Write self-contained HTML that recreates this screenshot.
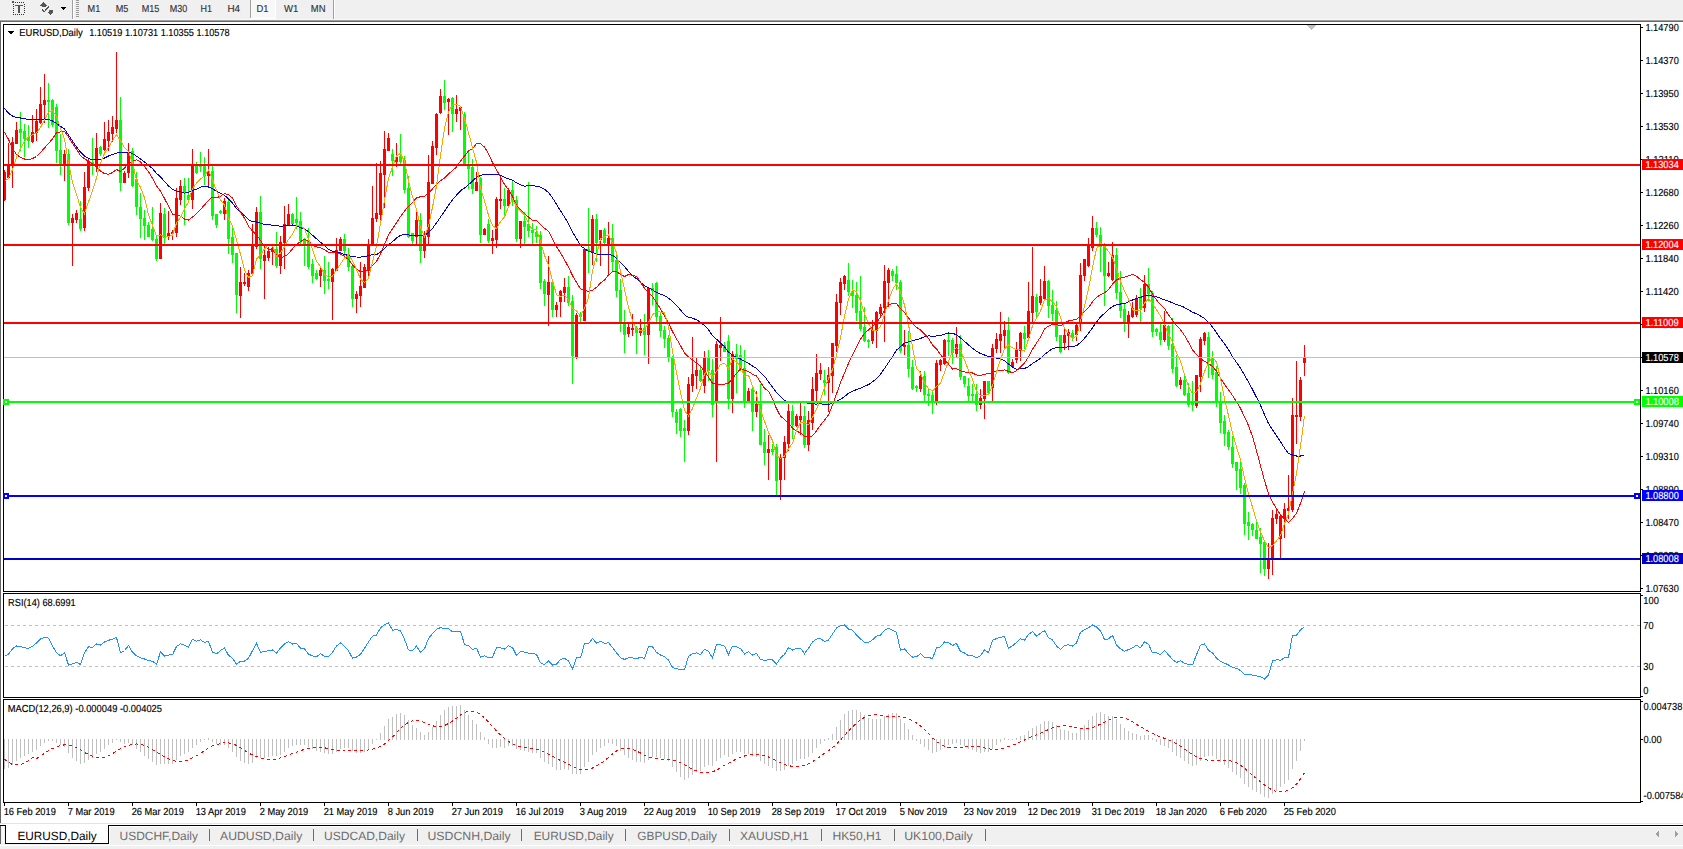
<!DOCTYPE html>
<html><head><meta charset="utf-8"><title>EURUSD,Daily</title>
<style>html,body{margin:0;padding:0;background:#fff;width:1683px;height:849px;overflow:hidden;font-family:"Liberation Sans",sans-serif}svg{display:block}text{font-family:"Liberation Sans",sans-serif}</style>
</head><body><svg width="1683" height="849" viewBox="0 0 1683 849" font-family="Liberation Sans, sans-serif" shape-rendering="crispEdges" text-rendering="geometricPrecision"><rect x="0" y="0" width="1683" height="849" fill="#f0f0f0"/>
<rect x="0" y="19" width="1683" height="1" fill="#f7f7f7"/>
<rect x="0" y="20" width="1683" height="1" fill="#a0a0a0"/>
<rect x="0" y="21" width="1683" height="1" fill="#696969"/>
<rect x="0" y="22" width="1683" height="801" fill="#ffffff"/>
<rect x="0" y="22" width="1" height="801" fill="#646464"/>
<rect x="13" y="2" width="1" height="1" fill="#333"/>
<rect x="13" y="14" width="1" height="1" fill="#333"/>
<rect x="15" y="2" width="1" height="1" fill="#333"/>
<rect x="15" y="14" width="1" height="1" fill="#333"/>
<rect x="17" y="2" width="1" height="1" fill="#333"/>
<rect x="17" y="14" width="1" height="1" fill="#333"/>
<rect x="19" y="2" width="1" height="1" fill="#333"/>
<rect x="19" y="14" width="1" height="1" fill="#333"/>
<rect x="21" y="2" width="1" height="1" fill="#333"/>
<rect x="21" y="14" width="1" height="1" fill="#333"/>
<rect x="23" y="2" width="1" height="1" fill="#333"/>
<rect x="23" y="14" width="1" height="1" fill="#333"/>
<rect x="13" y="4" width="1" height="1" fill="#333"/>
<rect x="24" y="4" width="1" height="1" fill="#333"/>
<rect x="13" y="6" width="1" height="1" fill="#333"/>
<rect x="24" y="6" width="1" height="1" fill="#333"/>
<rect x="13" y="8" width="1" height="1" fill="#333"/>
<rect x="24" y="8" width="1" height="1" fill="#333"/>
<rect x="13" y="10" width="1" height="1" fill="#333"/>
<rect x="24" y="10" width="1" height="1" fill="#333"/>
<rect x="13" y="12" width="1" height="1" fill="#333"/>
<rect x="24" y="12" width="1" height="1" fill="#333"/>
<rect x="12" y="1" width="2" height="2" fill="#555"/>
<rect x="15" y="5" width="8" height="1" fill="#555"/>
<rect x="18" y="5" width="2" height="8" fill="#555"/>
<path d="M40 5.5 L43.5 2 L47 5.5 Z M42 5 h4 v2 h-4 Z M47 11.5 L50.5 15 L54 11.5 Z M48.5 10 h4 v2 h-4 Z" fill="#555"/>
<path d="M42 9.5 L44.5 11.5 L49 6.5" stroke="#555" stroke-width="1.3" fill="none"/>
<path d="M61 7 L66 7 L63.5 9.8 Z" fill="#000"/>
<rect x="72" y="0" width="1" height="19" fill="#a0a0a0"/>
<rect x="73" y="0" width="1" height="19" fill="#ffffff"/>
<rect x="76" y="0" width="3" height="1" fill="#9a9a9a"/>
<rect x="76" y="2" width="3" height="1" fill="#9a9a9a"/>
<rect x="76" y="4" width="3" height="1" fill="#9a9a9a"/>
<rect x="76" y="6" width="3" height="1" fill="#9a9a9a"/>
<rect x="76" y="8" width="3" height="1" fill="#9a9a9a"/>
<rect x="76" y="10" width="3" height="1" fill="#9a9a9a"/>
<rect x="76" y="12" width="3" height="1" fill="#9a9a9a"/>
<rect x="76" y="14" width="3" height="1" fill="#9a9a9a"/>
<rect x="76" y="16" width="3" height="1" fill="#9a9a9a"/>
<rect x="250" y="0" width="1" height="18" fill="#a0a0a0"/>
<rect x="251" y="0" width="24" height="18" fill="#f8f8f8"/>
<rect x="250" y="18" width="26" height="1" fill="#ffffff"/>
<rect x="275" y="0" width="1" height="18" fill="#ffffff"/>
<rect x="333" y="0" width="1" height="19" fill="#a0a0a0"/>
<rect x="334" y="0" width="1" height="19" fill="#ffffff"/>
<text x="87.6" y="12" font-size="10.2" fill="#333" stroke="#333" stroke-width="0.15" textLength="12.7" lengthAdjust="spacingAndGlyphs">M1</text>
<text x="115.7" y="12" font-size="10.2" fill="#333" stroke="#333" stroke-width="0.15" textLength="12.6" lengthAdjust="spacingAndGlyphs">M5</text>
<text x="141.7" y="12" font-size="10.2" fill="#333" stroke="#333" stroke-width="0.15" textLength="17.6" lengthAdjust="spacingAndGlyphs">M15</text>
<text x="169.7" y="12" font-size="10.2" fill="#333" stroke="#333" stroke-width="0.15" textLength="17.5" lengthAdjust="spacingAndGlyphs">M30</text>
<text x="200.5" y="12" font-size="10.2" fill="#333" stroke="#333" stroke-width="0.15" textLength="11.5" lengthAdjust="spacingAndGlyphs">H1</text>
<text x="227.4" y="12" font-size="10.2" fill="#333" stroke="#333" stroke-width="0.15" textLength="12.6" lengthAdjust="spacingAndGlyphs">H4</text>
<text x="256.4" y="12" font-size="10.2" fill="#333" stroke="#333" stroke-width="0.15" textLength="12.0" lengthAdjust="spacingAndGlyphs">D1</text>
<text x="284" y="12" font-size="10.2" fill="#333" stroke="#333" stroke-width="0.15" textLength="14.3" lengthAdjust="spacingAndGlyphs">W1</text>
<text x="310.8" y="12" font-size="10.2" fill="#333" stroke="#333" stroke-width="0.15" textLength="14.7" lengthAdjust="spacingAndGlyphs">MN</text>
<rect x="3" y="24" width="1638" height="1" fill="#000"/>
<rect x="3" y="591" width="1638" height="1" fill="#000"/>
<rect x="3" y="24" width="1" height="568" fill="#000"/>
<rect x="1640" y="24" width="1" height="568" fill="#000"/>
<rect x="3" y="593" width="1638" height="1" fill="#000"/>
<rect x="3" y="697" width="1638" height="1" fill="#000"/>
<rect x="3" y="593" width="1" height="105" fill="#000"/>
<rect x="1640" y="593" width="1" height="105" fill="#000"/>
<rect x="3" y="699" width="1638" height="1" fill="#000"/>
<rect x="3" y="802" width="1638" height="1" fill="#000"/>
<rect x="3" y="699" width="1" height="104" fill="#000"/>
<rect x="1640" y="699" width="1" height="104" fill="#000"/>
<svg x="4" y="25" width="1636" height="566" viewBox="4 25 1636 566" overflow="hidden">
<rect x="4" y="170" width="1" height="31" fill="#ff0000"/>
<rect x="3" y="172" width="3" height="28" fill="#ff0000"/>
<rect x="8" y="143" width="1" height="36" fill="#ff0000"/>
<rect x="7" y="164" width="3" height="14" fill="#ff0000"/>
<rect x="12" y="137" width="1" height="51" fill="#ff0000"/>
<rect x="11" y="142" width="3" height="23" fill="#ff0000"/>
<rect x="16" y="122" width="1" height="22" fill="#ff0000"/>
<rect x="15" y="130" width="3" height="14" fill="#ff0000"/>
<rect x="20" y="112" width="1" height="39" fill="#00ff00"/>
<rect x="19" y="129" width="3" height="4" fill="#00ff00"/>
<rect x="24" y="124" width="1" height="33" fill="#00ff00"/>
<rect x="23" y="131" width="3" height="8" fill="#00ff00"/>
<rect x="28" y="125" width="1" height="23" fill="#00ff00"/>
<rect x="27" y="137" width="3" height="4" fill="#00ff00"/>
<rect x="32" y="115" width="1" height="28" fill="#ff0000"/>
<rect x="31" y="132" width="3" height="10" fill="#ff0000"/>
<rect x="36" y="109" width="1" height="32" fill="#ff0000"/>
<rect x="35" y="121" width="3" height="12" fill="#ff0000"/>
<rect x="40" y="87" width="1" height="37" fill="#ff0000"/>
<rect x="39" y="104" width="3" height="19" fill="#ff0000"/>
<rect x="44" y="74" width="1" height="49" fill="#ff0000"/>
<rect x="43" y="100" width="3" height="5" fill="#ff0000"/>
<rect x="48" y="83" width="1" height="45" fill="#00ff00"/>
<rect x="47" y="100" width="3" height="2" fill="#00ff00"/>
<rect x="52" y="99" width="1" height="28" fill="#00ff00"/>
<rect x="51" y="100" width="3" height="25" fill="#00ff00"/>
<rect x="56" y="104" width="1" height="59" fill="#00ff00"/>
<rect x="55" y="107" width="3" height="44" fill="#00ff00"/>
<rect x="60" y="134" width="1" height="41" fill="#00ff00"/>
<rect x="59" y="150" width="3" height="15" fill="#00ff00"/>
<rect x="64" y="150" width="1" height="31" fill="#ff0000"/>
<rect x="63" y="154" width="3" height="11" fill="#ff0000"/>
<rect x="68" y="149" width="1" height="76" fill="#00ff00"/>
<rect x="67" y="154" width="3" height="69" fill="#00ff00"/>
<rect x="72" y="214" width="1" height="52" fill="#ff0000"/>
<rect x="71" y="218" width="3" height="5" fill="#ff0000"/>
<rect x="76" y="210" width="1" height="13" fill="#ff0000"/>
<rect x="75" y="213" width="3" height="7" fill="#ff0000"/>
<rect x="80" y="201" width="1" height="30" fill="#00ff00"/>
<rect x="79" y="219" width="3" height="10" fill="#00ff00"/>
<rect x="84" y="172" width="1" height="59" fill="#ff0000"/>
<rect x="83" y="187" width="3" height="41" fill="#ff0000"/>
<rect x="88" y="158" width="1" height="33" fill="#ff0000"/>
<rect x="87" y="161" width="3" height="27" fill="#ff0000"/>
<rect x="92" y="138" width="1" height="37" fill="#00ff00"/>
<rect x="91" y="162" width="3" height="3" fill="#00ff00"/>
<rect x="96" y="133" width="1" height="39" fill="#ff0000"/>
<rect x="95" y="148" width="3" height="19" fill="#ff0000"/>
<rect x="100" y="146" width="1" height="10" fill="#00ff00"/>
<rect x="99" y="147" width="3" height="7" fill="#00ff00"/>
<rect x="104" y="122" width="1" height="29" fill="#ff0000"/>
<rect x="103" y="139" width="3" height="11" fill="#ff0000"/>
<rect x="108" y="120" width="1" height="31" fill="#ff0000"/>
<rect x="107" y="132" width="3" height="9" fill="#ff0000"/>
<rect x="112" y="116" width="1" height="26" fill="#ff0000"/>
<rect x="111" y="127" width="3" height="7" fill="#ff0000"/>
<rect x="116" y="52" width="1" height="81" fill="#ff0000"/>
<rect x="115" y="120" width="3" height="9" fill="#ff0000"/>
<rect x="120" y="97" width="1" height="94" fill="#00ff00"/>
<rect x="119" y="120" width="3" height="63" fill="#00ff00"/>
<rect x="124" y="171" width="1" height="12" fill="#ff0000"/>
<rect x="123" y="173" width="3" height="10" fill="#ff0000"/>
<rect x="128" y="143" width="1" height="35" fill="#ff0000"/>
<rect x="127" y="152" width="3" height="21" fill="#ff0000"/>
<rect x="132" y="148" width="1" height="39" fill="#00ff00"/>
<rect x="131" y="151" width="3" height="35" fill="#00ff00"/>
<rect x="136" y="172" width="1" height="43" fill="#00ff00"/>
<rect x="135" y="179" width="3" height="28" fill="#00ff00"/>
<rect x="140" y="193" width="1" height="45" fill="#00ff00"/>
<rect x="139" y="207" width="3" height="12" fill="#00ff00"/>
<rect x="144" y="210" width="1" height="30" fill="#00ff00"/>
<rect x="143" y="218" width="3" height="8" fill="#00ff00"/>
<rect x="148" y="222" width="1" height="15" fill="#00ff00"/>
<rect x="147" y="225" width="3" height="12" fill="#00ff00"/>
<rect x="152" y="207" width="1" height="34" fill="#00ff00"/>
<rect x="151" y="229" width="3" height="11" fill="#00ff00"/>
<rect x="156" y="236" width="1" height="25" fill="#00ff00"/>
<rect x="155" y="239" width="3" height="20" fill="#00ff00"/>
<rect x="160" y="203" width="1" height="56" fill="#ff0000"/>
<rect x="159" y="213" width="3" height="46" fill="#ff0000"/>
<rect x="164" y="208" width="1" height="36" fill="#00ff00"/>
<rect x="163" y="214" width="3" height="24" fill="#00ff00"/>
<rect x="168" y="211" width="1" height="29" fill="#ff0000"/>
<rect x="167" y="233" width="3" height="3" fill="#ff0000"/>
<rect x="172" y="230" width="1" height="10" fill="#ff0000"/>
<rect x="171" y="232" width="3" height="2" fill="#ff0000"/>
<rect x="176" y="188" width="1" height="49" fill="#ff0000"/>
<rect x="175" y="198" width="3" height="35" fill="#ff0000"/>
<rect x="180" y="180" width="1" height="25" fill="#ff0000"/>
<rect x="179" y="186" width="3" height="14" fill="#ff0000"/>
<rect x="184" y="178" width="1" height="47" fill="#00ff00"/>
<rect x="183" y="186" width="3" height="7" fill="#00ff00"/>
<rect x="188" y="178" width="1" height="25" fill="#00ff00"/>
<rect x="187" y="195" width="3" height="5" fill="#00ff00"/>
<rect x="192" y="149" width="1" height="60" fill="#ff0000"/>
<rect x="191" y="164" width="3" height="36" fill="#ff0000"/>
<rect x="196" y="162" width="1" height="12" fill="#00ff00"/>
<rect x="195" y="165" width="3" height="8" fill="#00ff00"/>
<rect x="200" y="152" width="1" height="20" fill="#00ff00"/>
<rect x="199" y="164" width="3" height="3" fill="#00ff00"/>
<rect x="204" y="157" width="1" height="28" fill="#00ff00"/>
<rect x="203" y="166" width="3" height="10" fill="#00ff00"/>
<rect x="208" y="149" width="1" height="37" fill="#ff0000"/>
<rect x="207" y="171" width="3" height="5" fill="#ff0000"/>
<rect x="212" y="166" width="1" height="54" fill="#00ff00"/>
<rect x="211" y="171" width="3" height="45" fill="#00ff00"/>
<rect x="216" y="214" width="1" height="14" fill="#00ff00"/>
<rect x="215" y="214" width="3" height="11" fill="#00ff00"/>
<rect x="220" y="210" width="1" height="4" fill="#00ff00"/>
<rect x="219" y="211" width="3" height="2" fill="#00ff00"/>
<rect x="224" y="198" width="1" height="22" fill="#ff0000"/>
<rect x="223" y="201" width="3" height="13" fill="#ff0000"/>
<rect x="228" y="199" width="1" height="55" fill="#00ff00"/>
<rect x="227" y="202" width="3" height="37" fill="#00ff00"/>
<rect x="232" y="227" width="1" height="36" fill="#00ff00"/>
<rect x="231" y="237" width="3" height="18" fill="#00ff00"/>
<rect x="236" y="253" width="1" height="60" fill="#00ff00"/>
<rect x="235" y="253" width="3" height="42" fill="#00ff00"/>
<rect x="240" y="267" width="1" height="51" fill="#ff0000"/>
<rect x="239" y="282" width="3" height="14" fill="#ff0000"/>
<rect x="244" y="273" width="1" height="13" fill="#ff0000"/>
<rect x="243" y="282" width="3" height="2" fill="#ff0000"/>
<rect x="248" y="270" width="1" height="21" fill="#ff0000"/>
<rect x="247" y="273" width="3" height="14" fill="#ff0000"/>
<rect x="252" y="224" width="1" height="51" fill="#ff0000"/>
<rect x="251" y="244" width="3" height="30" fill="#ff0000"/>
<rect x="256" y="207" width="1" height="42" fill="#ff0000"/>
<rect x="255" y="212" width="3" height="35" fill="#ff0000"/>
<rect x="260" y="196" width="1" height="73" fill="#00ff00"/>
<rect x="259" y="212" width="3" height="47" fill="#00ff00"/>
<rect x="264" y="246" width="1" height="53" fill="#ff0000"/>
<rect x="263" y="255" width="3" height="6" fill="#ff0000"/>
<rect x="268" y="247" width="1" height="14" fill="#ff0000"/>
<rect x="267" y="251" width="3" height="7" fill="#ff0000"/>
<rect x="272" y="246" width="1" height="19" fill="#ff0000"/>
<rect x="271" y="248" width="3" height="4" fill="#ff0000"/>
<rect x="276" y="232" width="1" height="36" fill="#00ff00"/>
<rect x="275" y="249" width="3" height="17" fill="#00ff00"/>
<rect x="280" y="236" width="1" height="38" fill="#ff0000"/>
<rect x="279" y="242" width="3" height="24" fill="#ff0000"/>
<rect x="284" y="206" width="1" height="63" fill="#ff0000"/>
<rect x="283" y="224" width="3" height="19" fill="#ff0000"/>
<rect x="288" y="204" width="1" height="22" fill="#ff0000"/>
<rect x="287" y="214" width="3" height="11" fill="#ff0000"/>
<rect x="292" y="213" width="1" height="12" fill="#00ff00"/>
<rect x="291" y="214" width="3" height="10" fill="#00ff00"/>
<rect x="296" y="197" width="1" height="32" fill="#00ff00"/>
<rect x="295" y="219" width="3" height="4" fill="#00ff00"/>
<rect x="300" y="212" width="1" height="33" fill="#00ff00"/>
<rect x="299" y="221" width="3" height="20" fill="#00ff00"/>
<rect x="304" y="238" width="1" height="28" fill="#00ff00"/>
<rect x="303" y="240" width="3" height="4" fill="#00ff00"/>
<rect x="308" y="228" width="1" height="41" fill="#00ff00"/>
<rect x="307" y="240" width="3" height="27" fill="#00ff00"/>
<rect x="312" y="259" width="1" height="24" fill="#00ff00"/>
<rect x="311" y="264" width="3" height="12" fill="#00ff00"/>
<rect x="316" y="270" width="1" height="10" fill="#00ff00"/>
<rect x="315" y="273" width="3" height="6" fill="#00ff00"/>
<rect x="320" y="267" width="1" height="20" fill="#ff0000"/>
<rect x="319" y="270" width="3" height="6" fill="#ff0000"/>
<rect x="324" y="256" width="1" height="38" fill="#00ff00"/>
<rect x="323" y="270" width="3" height="11" fill="#00ff00"/>
<rect x="328" y="262" width="1" height="27" fill="#00ff00"/>
<rect x="327" y="279" width="3" height="2" fill="#00ff00"/>
<rect x="332" y="268" width="1" height="52" fill="#ff0000"/>
<rect x="331" y="269" width="3" height="13" fill="#ff0000"/>
<rect x="336" y="238" width="1" height="33" fill="#ff0000"/>
<rect x="335" y="250" width="3" height="21" fill="#ff0000"/>
<rect x="340" y="237" width="1" height="14" fill="#ff0000"/>
<rect x="339" y="239" width="3" height="12" fill="#ff0000"/>
<rect x="344" y="234" width="1" height="22" fill="#00ff00"/>
<rect x="343" y="239" width="3" height="12" fill="#00ff00"/>
<rect x="348" y="248" width="1" height="23" fill="#00ff00"/>
<rect x="347" y="254" width="3" height="13" fill="#00ff00"/>
<rect x="352" y="264" width="1" height="43" fill="#00ff00"/>
<rect x="351" y="266" width="3" height="33" fill="#00ff00"/>
<rect x="356" y="291" width="1" height="22" fill="#ff0000"/>
<rect x="355" y="294" width="3" height="5" fill="#ff0000"/>
<rect x="360" y="262" width="1" height="45" fill="#ff0000"/>
<rect x="359" y="286" width="3" height="10" fill="#ff0000"/>
<rect x="364" y="264" width="1" height="24" fill="#ff0000"/>
<rect x="363" y="267" width="3" height="21" fill="#ff0000"/>
<rect x="368" y="239" width="1" height="39" fill="#ff0000"/>
<rect x="367" y="244" width="3" height="27" fill="#ff0000"/>
<rect x="372" y="186" width="1" height="60" fill="#ff0000"/>
<rect x="371" y="218" width="3" height="27" fill="#ff0000"/>
<rect x="376" y="163" width="1" height="59" fill="#ff0000"/>
<rect x="375" y="213" width="3" height="6" fill="#ff0000"/>
<rect x="380" y="161" width="1" height="60" fill="#ff0000"/>
<rect x="379" y="173" width="3" height="42" fill="#ff0000"/>
<rect x="384" y="131" width="1" height="77" fill="#ff0000"/>
<rect x="383" y="149" width="3" height="26" fill="#ff0000"/>
<rect x="388" y="133" width="1" height="18" fill="#ff0000"/>
<rect x="387" y="138" width="3" height="13" fill="#ff0000"/>
<rect x="392" y="149" width="1" height="27" fill="#00ff00"/>
<rect x="391" y="154" width="3" height="7" fill="#00ff00"/>
<rect x="396" y="143" width="1" height="24" fill="#ff0000"/>
<rect x="395" y="157" width="3" height="5" fill="#ff0000"/>
<rect x="400" y="134" width="1" height="30" fill="#00ff00"/>
<rect x="399" y="156" width="3" height="6" fill="#00ff00"/>
<rect x="404" y="156" width="1" height="37" fill="#00ff00"/>
<rect x="403" y="160" width="3" height="30" fill="#00ff00"/>
<rect x="408" y="176" width="1" height="62" fill="#00ff00"/>
<rect x="407" y="188" width="3" height="49" fill="#00ff00"/>
<rect x="412" y="233" width="1" height="12" fill="#00ff00"/>
<rect x="411" y="233" width="3" height="8" fill="#00ff00"/>
<rect x="416" y="211" width="1" height="34" fill="#ff0000"/>
<rect x="415" y="220" width="3" height="17" fill="#ff0000"/>
<rect x="420" y="213" width="1" height="50" fill="#00ff00"/>
<rect x="419" y="220" width="3" height="31" fill="#00ff00"/>
<rect x="424" y="231" width="1" height="27" fill="#ff0000"/>
<rect x="423" y="236" width="3" height="15" fill="#ff0000"/>
<rect x="428" y="155" width="1" height="89" fill="#ff0000"/>
<rect x="427" y="182" width="3" height="55" fill="#ff0000"/>
<rect x="432" y="141" width="1" height="43" fill="#ff0000"/>
<rect x="431" y="146" width="3" height="38" fill="#ff0000"/>
<rect x="436" y="113" width="1" height="42" fill="#ff0000"/>
<rect x="435" y="114" width="3" height="34" fill="#ff0000"/>
<rect x="440" y="89" width="1" height="25" fill="#ff0000"/>
<rect x="439" y="96" width="3" height="17" fill="#ff0000"/>
<rect x="444" y="80" width="1" height="30" fill="#00ff00"/>
<rect x="443" y="96" width="3" height="7" fill="#00ff00"/>
<rect x="448" y="98" width="1" height="37" fill="#ff0000"/>
<rect x="447" y="99" width="3" height="3" fill="#ff0000"/>
<rect x="452" y="97" width="1" height="35" fill="#00ff00"/>
<rect x="451" y="98" width="3" height="16" fill="#00ff00"/>
<rect x="456" y="95" width="1" height="27" fill="#ff0000"/>
<rect x="455" y="109" width="3" height="5" fill="#ff0000"/>
<rect x="460" y="106" width="1" height="24" fill="#ff0000"/>
<rect x="459" y="107" width="3" height="4" fill="#ff0000"/>
<rect x="464" y="112" width="1" height="53" fill="#00ff00"/>
<rect x="463" y="114" width="3" height="51" fill="#00ff00"/>
<rect x="468" y="152" width="1" height="37" fill="#00ff00"/>
<rect x="467" y="164" width="3" height="5" fill="#00ff00"/>
<rect x="472" y="159" width="1" height="35" fill="#00ff00"/>
<rect x="471" y="167" width="3" height="22" fill="#00ff00"/>
<rect x="476" y="172" width="1" height="19" fill="#ff0000"/>
<rect x="475" y="182" width="3" height="9" fill="#ff0000"/>
<rect x="480" y="177" width="1" height="66" fill="#00ff00"/>
<rect x="479" y="178" width="3" height="57" fill="#00ff00"/>
<rect x="484" y="228" width="1" height="7" fill="#ff0000"/>
<rect x="483" y="229" width="3" height="6" fill="#ff0000"/>
<rect x="488" y="219" width="1" height="24" fill="#00ff00"/>
<rect x="487" y="224" width="3" height="17" fill="#00ff00"/>
<rect x="492" y="230" width="1" height="24" fill="#ff0000"/>
<rect x="491" y="238" width="3" height="3" fill="#ff0000"/>
<rect x="496" y="197" width="1" height="51" fill="#ff0000"/>
<rect x="495" y="199" width="3" height="41" fill="#ff0000"/>
<rect x="500" y="178" width="1" height="31" fill="#ff0000"/>
<rect x="499" y="199" width="3" height="2" fill="#ff0000"/>
<rect x="504" y="188" width="1" height="28" fill="#00ff00"/>
<rect x="503" y="199" width="3" height="7" fill="#00ff00"/>
<rect x="508" y="188" width="1" height="18" fill="#ff0000"/>
<rect x="507" y="190" width="3" height="16" fill="#ff0000"/>
<rect x="512" y="181" width="1" height="25" fill="#00ff00"/>
<rect x="511" y="190" width="3" height="10" fill="#00ff00"/>
<rect x="516" y="196" width="1" height="46" fill="#00ff00"/>
<rect x="515" y="200" width="3" height="39" fill="#00ff00"/>
<rect x="520" y="221" width="1" height="27" fill="#ff0000"/>
<rect x="519" y="221" width="3" height="18" fill="#ff0000"/>
<rect x="524" y="212" width="1" height="32" fill="#00ff00"/>
<rect x="523" y="221" width="3" height="6" fill="#00ff00"/>
<rect x="528" y="182" width="1" height="55" fill="#00ff00"/>
<rect x="527" y="224" width="3" height="7" fill="#00ff00"/>
<rect x="532" y="223" width="1" height="22" fill="#00ff00"/>
<rect x="531" y="230" width="3" height="3" fill="#00ff00"/>
<rect x="536" y="226" width="1" height="17" fill="#00ff00"/>
<rect x="535" y="232" width="3" height="5" fill="#00ff00"/>
<rect x="540" y="231" width="1" height="58" fill="#00ff00"/>
<rect x="539" y="235" width="3" height="48" fill="#00ff00"/>
<rect x="544" y="279" width="1" height="27" fill="#00ff00"/>
<rect x="543" y="281" width="3" height="13" fill="#00ff00"/>
<rect x="548" y="256" width="1" height="70" fill="#ff0000"/>
<rect x="547" y="282" width="3" height="13" fill="#ff0000"/>
<rect x="552" y="281" width="1" height="36" fill="#00ff00"/>
<rect x="551" y="282" width="3" height="28" fill="#00ff00"/>
<rect x="556" y="302" width="1" height="15" fill="#ff0000"/>
<rect x="555" y="305" width="3" height="5" fill="#ff0000"/>
<rect x="560" y="290" width="1" height="27" fill="#ff0000"/>
<rect x="559" y="291" width="3" height="11" fill="#ff0000"/>
<rect x="564" y="278" width="1" height="24" fill="#ff0000"/>
<rect x="563" y="287" width="3" height="6" fill="#ff0000"/>
<rect x="568" y="276" width="1" height="30" fill="#00ff00"/>
<rect x="567" y="287" width="3" height="16" fill="#00ff00"/>
<rect x="572" y="295" width="1" height="89" fill="#00ff00"/>
<rect x="571" y="301" width="3" height="55" fill="#00ff00"/>
<rect x="576" y="313" width="1" height="46" fill="#ff0000"/>
<rect x="575" y="315" width="3" height="42" fill="#ff0000"/>
<rect x="580" y="312" width="1" height="11" fill="#00ff00"/>
<rect x="579" y="315" width="3" height="2" fill="#00ff00"/>
<rect x="584" y="249" width="1" height="72" fill="#ff0000"/>
<rect x="583" y="249" width="3" height="72" fill="#ff0000"/>
<rect x="588" y="208" width="1" height="65" fill="#00ff00"/>
<rect x="587" y="249" width="3" height="2" fill="#00ff00"/>
<rect x="592" y="215" width="1" height="50" fill="#ff0000"/>
<rect x="591" y="219" width="3" height="33" fill="#ff0000"/>
<rect x="596" y="214" width="1" height="48" fill="#00ff00"/>
<rect x="595" y="219" width="3" height="24" fill="#00ff00"/>
<rect x="600" y="230" width="1" height="36" fill="#ff0000"/>
<rect x="599" y="230" width="3" height="10" fill="#ff0000"/>
<rect x="604" y="228" width="1" height="17" fill="#00ff00"/>
<rect x="603" y="230" width="3" height="13" fill="#00ff00"/>
<rect x="608" y="222" width="1" height="54" fill="#ff0000"/>
<rect x="607" y="238" width="3" height="7" fill="#ff0000"/>
<rect x="612" y="224" width="1" height="48" fill="#00ff00"/>
<rect x="611" y="238" width="3" height="24" fill="#00ff00"/>
<rect x="616" y="255" width="1" height="42" fill="#00ff00"/>
<rect x="615" y="260" width="3" height="31" fill="#00ff00"/>
<rect x="620" y="279" width="1" height="53" fill="#00ff00"/>
<rect x="619" y="290" width="3" height="33" fill="#00ff00"/>
<rect x="624" y="310" width="1" height="43" fill="#00ff00"/>
<rect x="623" y="323" width="3" height="12" fill="#00ff00"/>
<rect x="628" y="323" width="1" height="14" fill="#ff0000"/>
<rect x="627" y="327" width="3" height="7" fill="#ff0000"/>
<rect x="632" y="314" width="1" height="22" fill="#ff0000"/>
<rect x="631" y="328" width="3" height="2" fill="#ff0000"/>
<rect x="636" y="326" width="1" height="28" fill="#00ff00"/>
<rect x="635" y="328" width="3" height="5" fill="#00ff00"/>
<rect x="640" y="319" width="1" height="17" fill="#ff0000"/>
<rect x="639" y="328" width="3" height="5" fill="#ff0000"/>
<rect x="644" y="314" width="1" height="41" fill="#00ff00"/>
<rect x="643" y="328" width="3" height="7" fill="#00ff00"/>
<rect x="648" y="287" width="1" height="77" fill="#ff0000"/>
<rect x="647" y="288" width="3" height="47" fill="#ff0000"/>
<rect x="652" y="283" width="1" height="22" fill="#00ff00"/>
<rect x="651" y="288" width="3" height="3" fill="#00ff00"/>
<rect x="656" y="282" width="1" height="40" fill="#00ff00"/>
<rect x="655" y="283" width="3" height="34" fill="#00ff00"/>
<rect x="660" y="312" width="1" height="25" fill="#00ff00"/>
<rect x="659" y="316" width="3" height="15" fill="#00ff00"/>
<rect x="664" y="326" width="1" height="22" fill="#00ff00"/>
<rect x="663" y="330" width="3" height="9" fill="#00ff00"/>
<rect x="668" y="335" width="1" height="27" fill="#00ff00"/>
<rect x="667" y="338" width="3" height="20" fill="#00ff00"/>
<rect x="672" y="356" width="1" height="61" fill="#00ff00"/>
<rect x="671" y="357" width="3" height="55" fill="#00ff00"/>
<rect x="676" y="409" width="1" height="25" fill="#00ff00"/>
<rect x="675" y="412" width="3" height="11" fill="#00ff00"/>
<rect x="680" y="408" width="1" height="29" fill="#00ff00"/>
<rect x="679" y="409" width="3" height="22" fill="#00ff00"/>
<rect x="684" y="420" width="1" height="42" fill="#00ff00"/>
<rect x="683" y="428" width="3" height="3" fill="#00ff00"/>
<rect x="688" y="377" width="1" height="58" fill="#ff0000"/>
<rect x="687" y="384" width="3" height="47" fill="#ff0000"/>
<rect x="692" y="337" width="1" height="55" fill="#ff0000"/>
<rect x="691" y="374" width="3" height="12" fill="#ff0000"/>
<rect x="696" y="358" width="1" height="31" fill="#ff0000"/>
<rect x="695" y="370" width="3" height="6" fill="#ff0000"/>
<rect x="700" y="365" width="1" height="17" fill="#00ff00"/>
<rect x="699" y="370" width="3" height="11" fill="#00ff00"/>
<rect x="704" y="351" width="1" height="42" fill="#ff0000"/>
<rect x="703" y="358" width="3" height="28" fill="#ff0000"/>
<rect x="708" y="350" width="1" height="31" fill="#00ff00"/>
<rect x="707" y="358" width="3" height="13" fill="#00ff00"/>
<rect x="712" y="359" width="1" height="58" fill="#00ff00"/>
<rect x="711" y="370" width="3" height="35" fill="#00ff00"/>
<rect x="716" y="341" width="1" height="121" fill="#ff0000"/>
<rect x="715" y="344" width="3" height="59" fill="#ff0000"/>
<rect x="720" y="317" width="1" height="44" fill="#ff0000"/>
<rect x="719" y="345" width="3" height="3" fill="#ff0000"/>
<rect x="724" y="342" width="1" height="10" fill="#00ff00"/>
<rect x="723" y="345" width="3" height="7" fill="#00ff00"/>
<rect x="728" y="335" width="1" height="74" fill="#00ff00"/>
<rect x="727" y="341" width="3" height="58" fill="#00ff00"/>
<rect x="732" y="351" width="1" height="62" fill="#ff0000"/>
<rect x="731" y="354" width="3" height="45" fill="#ff0000"/>
<rect x="736" y="344" width="1" height="49" fill="#00ff00"/>
<rect x="735" y="354" width="3" height="5" fill="#00ff00"/>
<rect x="740" y="345" width="1" height="26" fill="#00ff00"/>
<rect x="739" y="355" width="3" height="14" fill="#00ff00"/>
<rect x="744" y="350" width="1" height="58" fill="#00ff00"/>
<rect x="743" y="368" width="3" height="34" fill="#00ff00"/>
<rect x="748" y="388" width="1" height="14" fill="#ff0000"/>
<rect x="747" y="391" width="3" height="11" fill="#ff0000"/>
<rect x="752" y="387" width="1" height="44" fill="#00ff00"/>
<rect x="751" y="389" width="3" height="23" fill="#00ff00"/>
<rect x="756" y="391" width="1" height="26" fill="#ff0000"/>
<rect x="755" y="404" width="3" height="8" fill="#ff0000"/>
<rect x="760" y="384" width="1" height="61" fill="#00ff00"/>
<rect x="759" y="404" width="3" height="41" fill="#00ff00"/>
<rect x="764" y="429" width="1" height="36" fill="#00ff00"/>
<rect x="763" y="442" width="3" height="11" fill="#00ff00"/>
<rect x="768" y="435" width="1" height="45" fill="#ff0000"/>
<rect x="767" y="449" width="3" height="4" fill="#ff0000"/>
<rect x="772" y="444" width="1" height="11" fill="#00ff00"/>
<rect x="771" y="449" width="3" height="3" fill="#00ff00"/>
<rect x="776" y="444" width="1" height="51" fill="#00ff00"/>
<rect x="775" y="447" width="3" height="34" fill="#00ff00"/>
<rect x="780" y="454" width="1" height="46" fill="#ff0000"/>
<rect x="779" y="457" width="3" height="23" fill="#ff0000"/>
<rect x="784" y="436" width="1" height="44" fill="#ff0000"/>
<rect x="783" y="442" width="3" height="16" fill="#ff0000"/>
<rect x="788" y="404" width="1" height="47" fill="#ff0000"/>
<rect x="787" y="411" width="3" height="33" fill="#ff0000"/>
<rect x="792" y="405" width="1" height="34" fill="#00ff00"/>
<rect x="791" y="411" width="3" height="14" fill="#00ff00"/>
<rect x="796" y="414" width="1" height="13" fill="#ff0000"/>
<rect x="795" y="416" width="3" height="10" fill="#ff0000"/>
<rect x="800" y="403" width="1" height="32" fill="#ff0000"/>
<rect x="799" y="416" width="3" height="4" fill="#ff0000"/>
<rect x="804" y="406" width="1" height="42" fill="#00ff00"/>
<rect x="803" y="416" width="3" height="29" fill="#00ff00"/>
<rect x="808" y="411" width="1" height="40" fill="#ff0000"/>
<rect x="807" y="420" width="3" height="25" fill="#ff0000"/>
<rect x="812" y="377" width="1" height="53" fill="#ff0000"/>
<rect x="811" y="389" width="3" height="34" fill="#ff0000"/>
<rect x="816" y="354" width="1" height="47" fill="#ff0000"/>
<rect x="815" y="373" width="3" height="18" fill="#ff0000"/>
<rect x="820" y="363" width="1" height="17" fill="#ff0000"/>
<rect x="819" y="370" width="3" height="4" fill="#ff0000"/>
<rect x="824" y="370" width="1" height="25" fill="#00ff00"/>
<rect x="823" y="380" width="3" height="3" fill="#00ff00"/>
<rect x="828" y="367" width="1" height="45" fill="#ff0000"/>
<rect x="827" y="375" width="3" height="8" fill="#ff0000"/>
<rect x="832" y="343" width="1" height="50" fill="#ff0000"/>
<rect x="831" y="343" width="3" height="33" fill="#ff0000"/>
<rect x="836" y="294" width="1" height="58" fill="#ff0000"/>
<rect x="835" y="302" width="3" height="44" fill="#ff0000"/>
<rect x="840" y="278" width="1" height="37" fill="#ff0000"/>
<rect x="839" y="282" width="3" height="21" fill="#ff0000"/>
<rect x="844" y="275" width="1" height="15" fill="#ff0000"/>
<rect x="843" y="276" width="3" height="8" fill="#ff0000"/>
<rect x="848" y="263" width="1" height="33" fill="#00ff00"/>
<rect x="847" y="280" width="3" height="12" fill="#00ff00"/>
<rect x="852" y="280" width="1" height="28" fill="#00ff00"/>
<rect x="851" y="291" width="3" height="5" fill="#00ff00"/>
<rect x="856" y="282" width="1" height="39" fill="#00ff00"/>
<rect x="855" y="295" width="3" height="18" fill="#00ff00"/>
<rect x="860" y="276" width="1" height="55" fill="#00ff00"/>
<rect x="859" y="311" width="3" height="18" fill="#00ff00"/>
<rect x="864" y="307" width="1" height="35" fill="#00ff00"/>
<rect x="863" y="327" width="3" height="14" fill="#00ff00"/>
<rect x="868" y="339" width="1" height="9" fill="#00ff00"/>
<rect x="867" y="340" width="3" height="2" fill="#00ff00"/>
<rect x="872" y="320" width="1" height="24" fill="#ff0000"/>
<rect x="871" y="330" width="3" height="11" fill="#ff0000"/>
<rect x="876" y="311" width="1" height="37" fill="#ff0000"/>
<rect x="875" y="312" width="3" height="19" fill="#ff0000"/>
<rect x="880" y="304" width="1" height="13" fill="#ff0000"/>
<rect x="879" y="307" width="3" height="7" fill="#ff0000"/>
<rect x="884" y="265" width="1" height="77" fill="#ff0000"/>
<rect x="883" y="281" width="3" height="27" fill="#ff0000"/>
<rect x="888" y="268" width="1" height="39" fill="#ff0000"/>
<rect x="887" y="270" width="3" height="13" fill="#ff0000"/>
<rect x="892" y="269" width="1" height="12" fill="#00ff00"/>
<rect x="891" y="271" width="3" height="5" fill="#00ff00"/>
<rect x="896" y="266" width="1" height="24" fill="#00ff00"/>
<rect x="895" y="274" width="3" height="9" fill="#00ff00"/>
<rect x="900" y="280" width="1" height="73" fill="#00ff00"/>
<rect x="899" y="282" width="3" height="69" fill="#00ff00"/>
<rect x="904" y="330" width="1" height="25" fill="#ff0000"/>
<rect x="903" y="345" width="3" height="2" fill="#ff0000"/>
<rect x="908" y="331" width="1" height="46" fill="#00ff00"/>
<rect x="907" y="345" width="3" height="24" fill="#00ff00"/>
<rect x="912" y="360" width="1" height="30" fill="#00ff00"/>
<rect x="911" y="367" width="3" height="22" fill="#00ff00"/>
<rect x="916" y="385" width="1" height="7" fill="#00ff00"/>
<rect x="915" y="386" width="3" height="2" fill="#00ff00"/>
<rect x="920" y="371" width="1" height="21" fill="#ff0000"/>
<rect x="919" y="376" width="3" height="13" fill="#ff0000"/>
<rect x="924" y="371" width="1" height="31" fill="#00ff00"/>
<rect x="923" y="376" width="3" height="19" fill="#00ff00"/>
<rect x="928" y="388" width="1" height="18" fill="#00ff00"/>
<rect x="927" y="394" width="3" height="2" fill="#00ff00"/>
<rect x="932" y="392" width="1" height="22" fill="#00ff00"/>
<rect x="931" y="395" width="3" height="7" fill="#00ff00"/>
<rect x="936" y="360" width="1" height="45" fill="#ff0000"/>
<rect x="935" y="363" width="3" height="40" fill="#ff0000"/>
<rect x="940" y="359" width="1" height="12" fill="#ff0000"/>
<rect x="939" y="360" width="3" height="5" fill="#ff0000"/>
<rect x="944" y="339" width="1" height="26" fill="#ff0000"/>
<rect x="943" y="340" width="3" height="24" fill="#ff0000"/>
<rect x="948" y="333" width="1" height="23" fill="#00ff00"/>
<rect x="947" y="340" width="3" height="2" fill="#00ff00"/>
<rect x="952" y="338" width="1" height="26" fill="#00ff00"/>
<rect x="951" y="340" width="3" height="13" fill="#00ff00"/>
<rect x="956" y="327" width="1" height="30" fill="#ff0000"/>
<rect x="955" y="344" width="3" height="10" fill="#ff0000"/>
<rect x="960" y="335" width="1" height="45" fill="#00ff00"/>
<rect x="959" y="344" width="3" height="33" fill="#00ff00"/>
<rect x="964" y="376" width="1" height="11" fill="#00ff00"/>
<rect x="963" y="376" width="3" height="8" fill="#00ff00"/>
<rect x="968" y="378" width="1" height="24" fill="#00ff00"/>
<rect x="967" y="386" width="3" height="10" fill="#00ff00"/>
<rect x="972" y="384" width="1" height="18" fill="#00ff00"/>
<rect x="971" y="394" width="3" height="2" fill="#00ff00"/>
<rect x="976" y="384" width="1" height="27" fill="#00ff00"/>
<rect x="975" y="394" width="3" height="11" fill="#00ff00"/>
<rect x="980" y="389" width="1" height="20" fill="#ff0000"/>
<rect x="979" y="398" width="3" height="7" fill="#ff0000"/>
<rect x="984" y="381" width="1" height="38" fill="#ff0000"/>
<rect x="983" y="381" width="3" height="18" fill="#ff0000"/>
<rect x="988" y="381" width="1" height="12" fill="#00ff00"/>
<rect x="987" y="381" width="3" height="12" fill="#00ff00"/>
<rect x="992" y="344" width="1" height="58" fill="#ff0000"/>
<rect x="991" y="348" width="3" height="40" fill="#ff0000"/>
<rect x="996" y="333" width="1" height="20" fill="#ff0000"/>
<rect x="995" y="339" width="3" height="10" fill="#ff0000"/>
<rect x="1000" y="312" width="1" height="41" fill="#ff0000"/>
<rect x="999" y="334" width="3" height="7" fill="#ff0000"/>
<rect x="1004" y="321" width="1" height="28" fill="#ff0000"/>
<rect x="1003" y="330" width="3" height="6" fill="#ff0000"/>
<rect x="1008" y="317" width="1" height="57" fill="#00ff00"/>
<rect x="1007" y="330" width="3" height="43" fill="#00ff00"/>
<rect x="1012" y="359" width="1" height="9" fill="#ff0000"/>
<rect x="1011" y="362" width="3" height="5" fill="#ff0000"/>
<rect x="1016" y="342" width="1" height="21" fill="#ff0000"/>
<rect x="1015" y="349" width="3" height="11" fill="#ff0000"/>
<rect x="1020" y="332" width="1" height="29" fill="#ff0000"/>
<rect x="1019" y="333" width="3" height="18" fill="#ff0000"/>
<rect x="1024" y="326" width="1" height="23" fill="#00ff00"/>
<rect x="1023" y="333" width="3" height="6" fill="#00ff00"/>
<rect x="1028" y="282" width="1" height="57" fill="#ff0000"/>
<rect x="1027" y="311" width="3" height="27" fill="#ff0000"/>
<rect x="1032" y="247" width="1" height="76" fill="#ff0000"/>
<rect x="1031" y="296" width="3" height="17" fill="#ff0000"/>
<rect x="1036" y="294" width="1" height="23" fill="#00ff00"/>
<rect x="1035" y="297" width="3" height="15" fill="#00ff00"/>
<rect x="1040" y="279" width="1" height="26" fill="#ff0000"/>
<rect x="1039" y="296" width="3" height="7" fill="#ff0000"/>
<rect x="1044" y="266" width="1" height="34" fill="#ff0000"/>
<rect x="1043" y="281" width="3" height="18" fill="#ff0000"/>
<rect x="1048" y="280" width="1" height="38" fill="#00ff00"/>
<rect x="1047" y="281" width="3" height="25" fill="#00ff00"/>
<rect x="1052" y="290" width="1" height="31" fill="#00ff00"/>
<rect x="1051" y="305" width="3" height="9" fill="#00ff00"/>
<rect x="1056" y="301" width="1" height="40" fill="#00ff00"/>
<rect x="1055" y="310" width="3" height="27" fill="#00ff00"/>
<rect x="1060" y="335" width="1" height="18" fill="#00ff00"/>
<rect x="1059" y="335" width="3" height="17" fill="#00ff00"/>
<rect x="1064" y="328" width="1" height="22" fill="#ff0000"/>
<rect x="1063" y="335" width="3" height="8" fill="#ff0000"/>
<rect x="1068" y="329" width="1" height="21" fill="#ff0000"/>
<rect x="1067" y="332" width="3" height="4" fill="#ff0000"/>
<rect x="1072" y="330" width="1" height="11" fill="#00ff00"/>
<rect x="1071" y="333" width="3" height="5" fill="#00ff00"/>
<rect x="1076" y="324" width="1" height="17" fill="#ff0000"/>
<rect x="1075" y="325" width="3" height="10" fill="#ff0000"/>
<rect x="1080" y="263" width="1" height="68" fill="#ff0000"/>
<rect x="1079" y="275" width="3" height="49" fill="#ff0000"/>
<rect x="1084" y="259" width="1" height="22" fill="#ff0000"/>
<rect x="1083" y="259" width="3" height="17" fill="#ff0000"/>
<rect x="1088" y="238" width="1" height="29" fill="#ff0000"/>
<rect x="1087" y="246" width="3" height="20" fill="#ff0000"/>
<rect x="1092" y="216" width="1" height="35" fill="#ff0000"/>
<rect x="1091" y="228" width="3" height="20" fill="#ff0000"/>
<rect x="1096" y="222" width="1" height="15" fill="#00ff00"/>
<rect x="1095" y="228" width="3" height="7" fill="#00ff00"/>
<rect x="1100" y="227" width="1" height="45" fill="#00ff00"/>
<rect x="1099" y="235" width="3" height="12" fill="#00ff00"/>
<rect x="1104" y="243" width="1" height="63" fill="#00ff00"/>
<rect x="1103" y="246" width="3" height="30" fill="#00ff00"/>
<rect x="1108" y="262" width="1" height="15" fill="#ff0000"/>
<rect x="1107" y="273" width="3" height="3" fill="#ff0000"/>
<rect x="1112" y="242" width="1" height="39" fill="#ff0000"/>
<rect x="1111" y="255" width="3" height="25" fill="#ff0000"/>
<rect x="1116" y="248" width="1" height="51" fill="#00ff00"/>
<rect x="1115" y="255" width="3" height="38" fill="#00ff00"/>
<rect x="1120" y="271" width="1" height="47" fill="#00ff00"/>
<rect x="1119" y="292" width="3" height="19" fill="#00ff00"/>
<rect x="1124" y="304" width="1" height="28" fill="#00ff00"/>
<rect x="1123" y="309" width="3" height="14" fill="#00ff00"/>
<rect x="1128" y="311" width="1" height="27" fill="#ff0000"/>
<rect x="1127" y="315" width="3" height="8" fill="#ff0000"/>
<rect x="1132" y="302" width="1" height="16" fill="#ff0000"/>
<rect x="1131" y="308" width="3" height="9" fill="#ff0000"/>
<rect x="1136" y="295" width="1" height="22" fill="#ff0000"/>
<rect x="1135" y="298" width="3" height="17" fill="#ff0000"/>
<rect x="1140" y="288" width="1" height="35" fill="#00ff00"/>
<rect x="1139" y="298" width="3" height="11" fill="#00ff00"/>
<rect x="1144" y="275" width="1" height="37" fill="#ff0000"/>
<rect x="1143" y="284" width="3" height="24" fill="#ff0000"/>
<rect x="1148" y="268" width="1" height="33" fill="#00ff00"/>
<rect x="1147" y="284" width="3" height="10" fill="#00ff00"/>
<rect x="1152" y="291" width="1" height="46" fill="#00ff00"/>
<rect x="1151" y="293" width="3" height="39" fill="#00ff00"/>
<rect x="1156" y="328" width="1" height="8" fill="#00ff00"/>
<rect x="1155" y="329" width="3" height="3" fill="#00ff00"/>
<rect x="1160" y="324" width="1" height="21" fill="#00ff00"/>
<rect x="1159" y="332" width="3" height="8" fill="#00ff00"/>
<rect x="1164" y="311" width="1" height="31" fill="#ff0000"/>
<rect x="1163" y="325" width="3" height="15" fill="#ff0000"/>
<rect x="1168" y="325" width="1" height="25" fill="#00ff00"/>
<rect x="1167" y="326" width="3" height="20" fill="#00ff00"/>
<rect x="1172" y="318" width="1" height="55" fill="#00ff00"/>
<rect x="1171" y="344" width="3" height="25" fill="#00ff00"/>
<rect x="1176" y="355" width="1" height="32" fill="#00ff00"/>
<rect x="1175" y="367" width="3" height="19" fill="#00ff00"/>
<rect x="1180" y="377" width="1" height="12" fill="#ff0000"/>
<rect x="1179" y="380" width="3" height="5" fill="#ff0000"/>
<rect x="1184" y="375" width="1" height="21" fill="#00ff00"/>
<rect x="1183" y="380" width="3" height="15" fill="#00ff00"/>
<rect x="1188" y="383" width="1" height="24" fill="#00ff00"/>
<rect x="1187" y="393" width="3" height="12" fill="#00ff00"/>
<rect x="1192" y="381" width="1" height="30" fill="#00ff00"/>
<rect x="1191" y="403" width="3" height="2" fill="#00ff00"/>
<rect x="1196" y="375" width="1" height="33" fill="#ff0000"/>
<rect x="1195" y="375" width="3" height="31" fill="#ff0000"/>
<rect x="1200" y="337" width="1" height="55" fill="#ff0000"/>
<rect x="1199" y="339" width="3" height="38" fill="#ff0000"/>
<rect x="1204" y="332" width="1" height="13" fill="#ff0000"/>
<rect x="1203" y="333" width="3" height="8" fill="#ff0000"/>
<rect x="1208" y="332" width="1" height="46" fill="#00ff00"/>
<rect x="1207" y="337" width="3" height="25" fill="#00ff00"/>
<rect x="1212" y="351" width="1" height="28" fill="#00ff00"/>
<rect x="1211" y="358" width="3" height="17" fill="#00ff00"/>
<rect x="1216" y="366" width="1" height="41" fill="#00ff00"/>
<rect x="1215" y="372" width="3" height="31" fill="#00ff00"/>
<rect x="1220" y="392" width="1" height="41" fill="#00ff00"/>
<rect x="1219" y="402" width="3" height="21" fill="#00ff00"/>
<rect x="1224" y="415" width="1" height="31" fill="#00ff00"/>
<rect x="1223" y="421" width="3" height="13" fill="#00ff00"/>
<rect x="1228" y="430" width="1" height="20" fill="#00ff00"/>
<rect x="1227" y="432" width="3" height="15" fill="#00ff00"/>
<rect x="1232" y="436" width="1" height="32" fill="#00ff00"/>
<rect x="1231" y="447" width="3" height="17" fill="#00ff00"/>
<rect x="1236" y="462" width="1" height="28" fill="#00ff00"/>
<rect x="1235" y="462" width="3" height="9" fill="#00ff00"/>
<rect x="1240" y="462" width="1" height="32" fill="#00ff00"/>
<rect x="1239" y="469" width="3" height="19" fill="#00ff00"/>
<rect x="1244" y="483" width="1" height="52" fill="#00ff00"/>
<rect x="1243" y="485" width="3" height="39" fill="#00ff00"/>
<rect x="1248" y="512" width="1" height="28" fill="#00ff00"/>
<rect x="1247" y="522" width="3" height="4" fill="#00ff00"/>
<rect x="1252" y="523" width="1" height="13" fill="#00ff00"/>
<rect x="1251" y="524" width="3" height="6" fill="#00ff00"/>
<rect x="1256" y="521" width="1" height="18" fill="#00ff00"/>
<rect x="1255" y="530" width="3" height="9" fill="#00ff00"/>
<rect x="1260" y="528" width="1" height="45" fill="#00ff00"/>
<rect x="1259" y="537" width="3" height="7" fill="#00ff00"/>
<rect x="1264" y="541" width="1" height="35" fill="#00ff00"/>
<rect x="1263" y="542" width="3" height="27" fill="#00ff00"/>
<rect x="1268" y="543" width="1" height="36" fill="#ff0000"/>
<rect x="1267" y="558" width="3" height="11" fill="#ff0000"/>
<rect x="1272" y="510" width="1" height="65" fill="#ff0000"/>
<rect x="1271" y="518" width="3" height="41" fill="#ff0000"/>
<rect x="1276" y="510" width="1" height="14" fill="#ff0000"/>
<rect x="1275" y="514" width="3" height="5" fill="#ff0000"/>
<rect x="1280" y="515" width="1" height="43" fill="#ff0000"/>
<rect x="1279" y="516" width="3" height="23" fill="#ff0000"/>
<rect x="1284" y="503" width="1" height="35" fill="#ff0000"/>
<rect x="1283" y="509" width="3" height="10" fill="#ff0000"/>
<rect x="1288" y="475" width="1" height="44" fill="#ff0000"/>
<rect x="1287" y="508" width="3" height="3" fill="#ff0000"/>
<rect x="1292" y="398" width="1" height="114" fill="#ff0000"/>
<rect x="1291" y="415" width="3" height="95" fill="#ff0000"/>
<rect x="1296" y="361" width="1" height="83" fill="#ff0000"/>
<rect x="1295" y="415" width="3" height="2" fill="#ff0000"/>
<rect x="1300" y="377" width="1" height="44" fill="#ff0000"/>
<rect x="1299" y="380" width="3" height="37" fill="#ff0000"/>
<rect x="1304" y="345" width="1" height="31" fill="#ff0000"/>
<rect x="1303" y="357" width="3" height="6" fill="#ff0000"/>
<polyline points="4.5,108.5 8.5,113.2 12.5,116.0 16.5,117.5 20.5,118.0 24.5,118.7 28.5,119.8 32.5,119.8 36.5,119.8 40.5,119.5 44.5,118.9 48.5,119.5 52.5,121.0 56.5,123.5 60.5,126.3 64.5,129.0 68.5,135.0 72.5,141.0 76.5,147.0 80.5,152.0 84.5,156.0 88.5,158.5 92.5,159.9 96.5,159.9 100.5,159.7 104.5,158.0 108.5,156.0 112.5,154.5 116.5,153.1 120.5,152.5 124.5,152.6 128.5,152.2 132.5,153.6 136.5,156.1 140.5,159.0 144.5,162.0 148.5,165.2 152.5,168.7 156.5,173.3 160.5,176.9 164.5,181.5 168.5,185.9 172.5,189.5 176.5,191.1 180.5,191.8 184.5,193.1 188.5,192.3 192.5,190.5 196.5,189.2 200.5,187.1 204.5,186.7 208.5,187.0 212.5,188.7 216.5,191.3 220.5,193.2 224.5,195.3 228.5,198.8 232.5,203.0 236.5,208.8 240.5,212.2 244.5,215.8 248.5,219.8 252.5,221.8 256.5,222.0 260.5,223.3 264.5,224.3 268.5,224.8 272.5,225.1 276.5,225.4 280.5,226.3 284.5,225.9 288.5,225.3 292.5,225.0 296.5,225.8 300.5,227.6 304.5,229.3 308.5,231.5 312.5,235.2 316.5,238.8 320.5,242.2 324.5,245.7 328.5,249.4 332.5,251.2 336.5,252.0 340.5,252.9 344.5,254.5 348.5,255.5 352.5,256.9 356.5,257.0 360.5,257.1 364.5,256.6 368.5,255.6 372.5,254.7 376.5,254.8 380.5,252.0 384.5,248.4 388.5,244.6 392.5,241.7 396.5,238.1 400.5,235.4 404.5,234.2 408.5,234.9 412.5,235.4 416.5,235.4 420.5,235.7 424.5,235.5 428.5,232.7 432.5,228.4 436.5,222.9 440.5,217.1 444.5,211.2 448.5,205.1 452.5,199.9 456.5,195.2 460.5,190.8 464.5,188.0 468.5,184.7 472.5,181.1 476.5,177.3 480.5,175.6 484.5,174.3 488.5,174.2 492.5,174.9 496.5,174.5 500.5,175.3 504.5,177.2 508.5,178.9 512.5,180.2 516.5,182.9 520.5,184.9 524.5,186.1 528.5,185.9 532.5,185.7 536.5,186.2 540.5,187.2 544.5,189.2 548.5,192.5 552.5,197.9 556.5,204.3 560.5,210.8 564.5,217.0 568.5,223.8 572.5,231.9 576.5,238.7 580.5,245.7 584.5,248.6 588.5,251.3 592.5,252.3 596.5,254.3 600.5,254.2 604.5,254.6 608.5,254.5 612.5,255.3 616.5,258.3 620.5,262.4 624.5,266.7 628.5,271.3 632.5,275.6 636.5,278.8 640.5,282.3 644.5,285.9 648.5,287.8 652.5,289.8 656.5,292.5 660.5,294.1 664.5,295.6 668.5,298.1 672.5,301.5 676.5,305.4 680.5,310.0 684.5,314.8 688.5,317.5 692.5,318.1 696.5,319.9 700.5,322.1 704.5,325.7 708.5,329.7 712.5,335.8 716.5,339.2 720.5,343.1 724.5,346.7 728.5,352.0 732.5,355.2 736.5,357.4 740.5,359.0 744.5,361.2 748.5,363.3 752.5,366.1 756.5,368.5 760.5,372.4 764.5,376.3 768.5,381.7 772.5,387.1 776.5,392.5 780.5,396.7 784.5,400.2 788.5,402.0 792.5,402.4 796.5,402.2 800.5,401.8 804.5,402.2 808.5,403.4 812.5,403.9 816.5,404.1 820.5,403.7 824.5,404.5 828.5,404.7 832.5,402.7 836.5,401.3 840.5,399.2 844.5,396.7 848.5,393.1 852.5,391.2 856.5,389.6 860.5,388.3 864.5,386.2 868.5,384.6 872.5,381.9 876.5,378.8 880.5,374.2 884.5,368.5 888.5,362.6 892.5,356.7 896.5,350.1 900.5,346.6 904.5,343.3 908.5,341.9 912.5,340.7 916.5,339.7 920.5,338.4 924.5,336.7 928.5,335.9 932.5,336.3 936.5,336.0 940.5,335.6 944.5,334.2 948.5,333.0 952.5,333.3 956.5,334.7 960.5,337.9 964.5,341.4 968.5,344.9 972.5,348.2 976.5,351.3 980.5,353.6 984.5,355.0 988.5,356.7 992.5,357.3 996.5,358.2 1000.5,359.1 1004.5,360.8 1008.5,364.1 1012.5,367.0 1016.5,369.3 1020.5,368.7 1024.5,368.5 1028.5,366.6 1032.5,363.5 1036.5,361.0 1040.5,358.3 1044.5,354.5 1048.5,351.5 1052.5,348.6 1056.5,347.7 1060.5,347.4 1064.5,347.2 1068.5,346.9 1072.5,346.4 1076.5,345.8 1080.5,342.4 1084.5,338.3 1088.5,333.3 1092.5,327.7 1096.5,322.0 1100.5,317.0 1104.5,313.4 1108.5,309.5 1112.5,306.4 1116.5,304.8 1120.5,304.0 1124.5,303.7 1128.5,301.8 1132.5,300.0 1136.5,298.3 1140.5,297.5 1144.5,295.7 1148.5,295.1 1152.5,296.2 1156.5,296.9 1160.5,298.3 1164.5,299.8 1168.5,301.1 1172.5,302.9 1176.5,304.6 1180.5,305.6 1184.5,307.5 1188.5,309.9 1192.5,312.2 1196.5,313.8 1200.5,316.0 1204.5,318.4 1208.5,322.3 1212.5,327.1 1216.5,332.7 1220.5,338.6 1224.5,343.8 1228.5,349.6 1232.5,356.5 1236.5,362.4 1240.5,368.3 1244.5,375.1 1248.5,382.0 1252.5,389.4 1256.5,397.4 1260.5,405.2 1264.5,414.7 1268.5,423.5 1272.5,429.8 1276.5,435.9 1280.5,441.8 1284.5,448.0 1288.5,453.4 1292.5,455.0 1296.5,456.0 1300.5,456.0 1304.5,454.8" fill="none" stroke="#0000c8" stroke-width="1" shape-rendering="crispEdges"/>
<polyline points="4.5,132.2 8.5,139.4 12.5,148.5 16.5,154.5 20.5,157.5 24.5,159.0 28.5,159.9 32.5,158.5 36.5,156.5 40.5,152.5 44.5,148.0 48.5,143.5 52.5,139.0 56.5,132.6 60.5,132.0 64.5,131.3 68.5,137.0 72.5,143.3 76.5,149.1 80.5,155.5 84.5,158.9 88.5,161.0 92.5,164.0 96.5,167.2 100.5,170.9 104.5,173.7 108.5,174.2 112.5,172.6 116.5,169.5 120.5,171.5 124.5,168.0 128.5,163.3 132.5,161.3 136.5,159.7 140.5,162.0 144.5,166.6 148.5,171.7 152.5,178.2 156.5,185.8 160.5,191.1 164.5,198.5 168.5,206.1 172.5,214.1 176.5,215.2 180.5,216.1 184.5,219.0 188.5,220.0 192.5,217.0 196.5,213.7 200.5,209.4 204.5,205.0 208.5,200.2 212.5,197.1 216.5,197.9 220.5,196.1 224.5,193.8 228.5,194.3 232.5,198.2 236.5,205.9 240.5,212.4 244.5,218.3 248.5,226.1 252.5,231.2 256.5,234.5 260.5,240.5 264.5,246.5 268.5,249.1 272.5,250.8 276.5,254.6 280.5,257.5 284.5,256.6 288.5,253.8 292.5,248.8 296.5,244.4 300.5,241.5 304.5,239.3 308.5,240.8 312.5,245.4 316.5,246.8 320.5,247.8 324.5,249.9 328.5,252.2 332.5,252.5 336.5,253.0 340.5,254.0 344.5,256.5 348.5,259.5 352.5,264.9 356.5,268.8 360.5,271.9 364.5,272.0 368.5,269.7 372.5,265.4 376.5,261.4 380.5,253.8 384.5,244.4 388.5,235.0 392.5,228.7 396.5,222.8 400.5,216.5 404.5,211.0 408.5,206.5 412.5,202.7 416.5,197.9 420.5,196.7 424.5,196.2 428.5,193.5 432.5,188.8 436.5,184.5 440.5,180.7 444.5,178.2 448.5,173.8 452.5,170.6 456.5,167.0 460.5,161.1 464.5,156.0 468.5,150.8 472.5,148.6 476.5,143.7 480.5,143.6 484.5,147.0 488.5,153.7 492.5,162.6 496.5,170.0 500.5,176.9 504.5,184.5 508.5,190.0 512.5,196.4 516.5,205.7 520.5,209.9 524.5,213.9 528.5,217.0 532.5,220.5 536.5,220.6 540.5,224.4 544.5,228.2 548.5,231.3 552.5,239.1 556.5,246.7 560.5,252.9 564.5,259.8 568.5,267.2 572.5,275.6 576.5,282.3 580.5,288.8 584.5,290.2 588.5,291.5 592.5,290.3 596.5,287.4 600.5,282.9 604.5,280.1 608.5,275.0 612.5,271.8 616.5,271.8 620.5,274.2 624.5,276.5 628.5,274.5 632.5,275.4 636.5,276.5 640.5,282.2 644.5,288.1 648.5,293.0 652.5,296.4 656.5,302.6 660.5,308.9 664.5,316.1 668.5,323.0 672.5,331.6 676.5,338.8 680.5,345.6 684.5,353.0 688.5,357.0 692.5,360.0 696.5,363.0 700.5,366.3 704.5,371.3 708.5,377.0 712.5,383.3 716.5,384.2 720.5,384.7 724.5,384.2 728.5,383.3 732.5,378.5 736.5,373.4 740.5,369.0 744.5,370.2 748.5,371.4 752.5,374.3 756.5,376.0 760.5,382.2 764.5,388.1 768.5,391.3 772.5,398.9 776.5,408.6 780.5,416.2 784.5,419.3 788.5,423.3 792.5,428.0 796.5,431.5 800.5,432.5 804.5,436.3 808.5,437.0 812.5,435.9 816.5,430.9 820.5,425.0 824.5,420.2 828.5,414.9 832.5,405.1 836.5,394.0 840.5,382.6 844.5,373.0 848.5,363.4 852.5,354.8 856.5,347.4 860.5,339.1 864.5,333.3 868.5,329.9 872.5,326.8 876.5,322.6 880.5,317.2 884.5,310.5 888.5,305.3 892.5,303.4 896.5,303.4 900.5,308.7 904.5,312.5 908.5,317.7 912.5,323.2 916.5,327.4 920.5,330.0 924.5,333.8 928.5,338.4 932.5,344.8 936.5,348.9 940.5,354.5 944.5,359.4 948.5,364.1 952.5,369.1 956.5,368.7 960.5,370.9 964.5,372.0 968.5,372.4 972.5,373.0 976.5,375.0 980.5,375.3 984.5,374.3 988.5,373.7 992.5,372.6 996.5,371.1 1000.5,370.7 1004.5,369.9 1008.5,371.4 1012.5,372.6 1016.5,370.7 1020.5,367.1 1024.5,363.0 1028.5,357.1 1032.5,349.3 1036.5,343.1 1040.5,337.0 1044.5,329.1 1048.5,326.1 1052.5,324.2 1056.5,324.3 1060.5,325.8 1064.5,323.1 1068.5,321.0 1072.5,320.1 1076.5,319.5 1080.5,315.1 1084.5,311.3 1088.5,307.7 1092.5,301.8 1096.5,297.3 1100.5,294.8 1104.5,292.7 1108.5,289.8 1112.5,284.1 1116.5,279.9 1120.5,278.1 1124.5,277.3 1128.5,275.8 1132.5,274.5 1136.5,276.2 1140.5,279.7 1144.5,282.4 1148.5,287.1 1152.5,294.0 1156.5,300.1 1160.5,304.6 1164.5,308.4 1168.5,314.8 1172.5,320.2 1176.5,325.6 1180.5,329.7 1184.5,335.4 1188.5,342.2 1192.5,349.8 1196.5,354.6 1200.5,358.5 1204.5,361.4 1208.5,363.5 1212.5,366.6 1216.5,371.1 1220.5,378.0 1224.5,384.3 1228.5,389.8 1232.5,395.4 1236.5,401.8 1240.5,408.4 1244.5,416.9 1248.5,425.5 1252.5,436.5 1256.5,450.7 1260.5,465.7 1264.5,480.5 1268.5,493.7 1272.5,502.0 1276.5,508.6 1280.5,514.6 1284.5,519.1 1288.5,522.4 1292.5,518.5 1296.5,513.4 1300.5,503.2 1304.5,491.3" fill="none" stroke="#ff0000" stroke-width="1" shape-rendering="crispEdges"/>
<polyline points="4.5,181.3 8.5,178.5 12.5,169.5 16.5,157.5 20.5,148.3 24.5,141.5 28.5,136.7 32.5,134.7 36.5,132.9 40.5,127.4 44.5,119.9 48.5,112.1 52.5,110.6 56.5,116.4 60.5,128.3 64.5,139.1 68.5,163.4 72.5,182.0 76.5,194.6 80.5,207.4 84.5,214.0 88.5,201.8 92.5,190.9 96.5,177.9 100.5,162.9 104.5,153.4 108.5,147.6 112.5,140.4 116.5,134.8 120.5,140.7 124.5,147.5 128.5,151.4 132.5,162.9 136.5,180.2 140.5,187.4 144.5,197.8 148.5,214.7 152.5,225.5 156.5,235.9 160.5,234.8 164.5,237.1 168.5,236.6 172.5,235.1 176.5,223.0 180.5,217.6 184.5,208.7 188.5,201.9 192.5,188.4 196.5,183.2 200.5,179.1 204.5,175.6 208.5,170.0 212.5,180.2 216.5,190.6 220.5,199.8 224.5,205.2 228.5,218.5 232.5,226.2 236.5,240.1 240.5,254.2 244.5,270.3 248.5,277.5 252.5,275.6 256.5,259.1 260.5,254.4 264.5,249.0 268.5,244.6 272.5,245.5 276.5,256.1 280.5,252.9 284.5,246.7 288.5,239.4 292.5,234.4 296.5,225.7 300.5,225.4 304.5,229.0 308.5,239.2 312.5,249.6 316.5,261.0 320.5,266.8 324.5,274.2 328.5,277.2 332.5,276.0 336.5,270.2 340.5,264.0 344.5,258.0 348.5,255.0 352.5,260.7 356.5,269.6 360.5,279.1 364.5,282.6 368.5,278.2 372.5,262.4 376.5,246.2 380.5,223.5 384.5,199.9 388.5,178.7 392.5,167.2 396.5,155.9 400.5,153.5 404.5,161.3 408.5,180.9 412.5,196.8 416.5,209.5 420.5,227.4 424.5,236.8 428.5,226.0 432.5,207.3 436.5,186.0 440.5,155.1 444.5,128.4 448.5,111.8 452.5,105.1 456.5,104.2 460.5,106.4 464.5,118.7 468.5,132.6 472.5,147.7 476.5,162.3 480.5,187.8 484.5,200.9 488.5,215.3 492.5,225.4 496.5,228.8 500.5,221.7 504.5,216.8 508.5,206.7 512.5,198.7 516.5,206.5 520.5,211.0 524.5,215.1 528.5,223.2 532.5,229.9 536.5,229.4 540.5,241.5 544.5,255.1 548.5,265.4 552.5,280.8 556.5,294.6 560.5,296.5 564.5,295.4 568.5,299.4 572.5,308.7 576.5,310.8 580.5,315.8 584.5,308.2 588.5,297.9 592.5,270.6 596.5,255.8 600.5,238.6 604.5,237.1 608.5,234.5 612.5,242.9 616.5,252.7 620.5,271.1 624.5,289.4 628.5,307.4 632.5,320.8 636.5,329.1 640.5,330.3 644.5,330.3 648.5,322.5 652.5,314.8 656.5,311.6 660.5,312.1 664.5,313.0 668.5,326.9 672.5,351.2 676.5,372.3 680.5,392.2 684.5,410.5 688.5,415.9 692.5,408.5 696.5,398.1 700.5,388.2 704.5,373.8 708.5,370.9 712.5,376.8 716.5,371.6 720.5,364.5 724.5,363.1 728.5,368.8 732.5,358.9 736.5,361.9 740.5,366.5 744.5,376.6 748.5,375.1 752.5,386.4 756.5,395.4 760.5,410.7 764.5,420.9 768.5,432.6 772.5,440.5 776.5,455.8 780.5,458.3 784.5,456.2 788.5,448.6 792.5,443.4 796.5,430.6 800.5,422.5 804.5,422.8 808.5,424.6 812.5,417.5 816.5,409.0 820.5,399.9 824.5,387.6 828.5,378.6 832.5,369.4 836.5,355.1 840.5,337.5 844.5,316.3 848.5,299.4 852.5,289.8 856.5,291.8 860.5,300.9 864.5,313.7 868.5,323.7 872.5,330.6 876.5,330.6 880.5,326.5 884.5,314.6 888.5,300.5 892.5,289.6 896.5,283.6 900.5,292.3 904.5,305.0 908.5,324.6 912.5,347.2 916.5,368.1 920.5,373.2 924.5,383.1 928.5,388.6 932.5,391.2 936.5,386.5 940.5,383.3 944.5,372.3 948.5,361.4 952.5,351.5 956.5,347.7 960.5,351.1 964.5,359.7 968.5,370.6 972.5,379.1 976.5,391.1 980.5,395.5 984.5,395.2 988.5,394.7 992.5,385.3 996.5,372.2 1000.5,359.4 1004.5,349.2 1008.5,345.1 1012.5,347.9 1016.5,349.9 1020.5,349.7 1024.5,351.2 1028.5,339.1 1032.5,325.9 1036.5,318.3 1040.5,310.9 1044.5,299.7 1048.5,298.5 1052.5,301.7 1056.5,306.7 1060.5,317.6 1064.5,328.3 1068.5,333.7 1072.5,338.5 1076.5,336.4 1080.5,321.2 1084.5,306.2 1088.5,288.9 1092.5,267.0 1096.5,248.8 1100.5,243.1 1104.5,246.2 1108.5,251.6 1112.5,257.1 1116.5,268.7 1120.5,281.4 1124.5,290.8 1128.5,299.2 1132.5,309.7 1136.5,311.0 1140.5,310.6 1144.5,303.1 1148.5,298.7 1152.5,303.3 1156.5,309.8 1160.5,316.0 1164.5,324.3 1168.5,334.6 1172.5,341.9 1176.5,352.8 1180.5,361.0 1184.5,374.8 1188.5,386.6 1192.5,393.9 1196.5,391.9 1200.5,383.7 1204.5,371.5 1208.5,363.0 1212.5,356.9 1216.5,362.2 1220.5,378.7 1224.5,398.6 1228.5,415.6 1232.5,433.4 1236.5,447.0 1240.5,460.0 1244.5,478.0 1248.5,493.8 1252.5,507.1 1256.5,520.7 1260.5,531.9 1264.5,540.9 1268.5,547.7 1272.5,545.5 1276.5,540.8 1280.5,535.5 1284.5,523.8 1288.5,513.8 1292.5,493.2 1296.5,473.4 1300.5,446.1 1304.5,415.7" fill="none" stroke="#ffa500" stroke-width="1" shape-rendering="crispEdges"/>
<rect x="4" y="357" width="1636" height="1" fill="#c0c0c0"/>
<rect x="4" y="164" width="1636" height="2" fill="#ff0000"/>
<rect x="4" y="244" width="1636" height="2" fill="#ff0000"/>
<rect x="4" y="322" width="1636" height="2" fill="#ff0000"/>
<rect x="4" y="401" width="1636" height="2" fill="#00ff00"/>
<rect x="4" y="495" width="1636" height="2" fill="#0000ff"/>
<rect x="4" y="558" width="1636" height="2" fill="#0000c8"/>
</svg>
<rect x="3" y="399" width="6" height="6" fill="#00ff00"/>
<rect x="5" y="401" width="2" height="2" fill="#fff"/>
<rect x="1634" y="399" width="6" height="6" fill="#00ff00"/>
<rect x="1636" y="401" width="2" height="2" fill="#fff"/>
<rect x="3" y="493" width="6" height="6" fill="#0000ff"/>
<rect x="5" y="495" width="2" height="2" fill="#fff"/>
<rect x="1634" y="493" width="6" height="6" fill="#0000ff"/>
<rect x="1636" y="495" width="2" height="2" fill="#fff"/>
<rect x="1307" y="25" width="9" height="1" fill="#c0c0c0"/>
<rect x="1308" y="26" width="7" height="1" fill="#c0c0c0"/>
<rect x="1309" y="27" width="5" height="1" fill="#c0c0c0"/>
<rect x="1310" y="28" width="3" height="1" fill="#c0c0c0"/>
<rect x="1311" y="29" width="1" height="1" fill="#c0c0c0"/>
<rect x="1641" y="27" width="2" height="1" fill="#000"/>
<text x="1645.4" y="31" font-size="10.2" fill="#000" stroke="#000" stroke-width="0.15" textLength="33.4" lengthAdjust="spacingAndGlyphs">1.14790</text>
<rect x="1641" y="60" width="2" height="1" fill="#000"/>
<text x="1645.4" y="64" font-size="10.2" fill="#000" stroke="#000" stroke-width="0.15" textLength="33.4" lengthAdjust="spacingAndGlyphs">1.14370</text>
<rect x="1641" y="93" width="2" height="1" fill="#000"/>
<text x="1645.4" y="97" font-size="10.2" fill="#000" stroke="#000" stroke-width="0.15" textLength="33.4" lengthAdjust="spacingAndGlyphs">1.13950</text>
<rect x="1641" y="126" width="2" height="1" fill="#000"/>
<text x="1645.4" y="130" font-size="10.2" fill="#000" stroke="#000" stroke-width="0.15" textLength="33.4" lengthAdjust="spacingAndGlyphs">1.13530</text>
<rect x="1641" y="159" width="2" height="1" fill="#000"/>
<text x="1645.4" y="163" font-size="10.2" fill="#000" stroke="#000" stroke-width="0.15" textLength="33.4" lengthAdjust="spacingAndGlyphs">1.13110</text>
<rect x="1641" y="192" width="2" height="1" fill="#000"/>
<text x="1645.4" y="196" font-size="10.2" fill="#000" stroke="#000" stroke-width="0.15" textLength="33.4" lengthAdjust="spacingAndGlyphs">1.12680</text>
<rect x="1641" y="225" width="2" height="1" fill="#000"/>
<text x="1645.4" y="229" font-size="10.2" fill="#000" stroke="#000" stroke-width="0.15" textLength="33.4" lengthAdjust="spacingAndGlyphs">1.12260</text>
<rect x="1641" y="258" width="2" height="1" fill="#000"/>
<text x="1645.4" y="262" font-size="10.2" fill="#000" stroke="#000" stroke-width="0.15" textLength="33.4" lengthAdjust="spacingAndGlyphs">1.11840</text>
<rect x="1641" y="291" width="2" height="1" fill="#000"/>
<text x="1645.4" y="295" font-size="10.2" fill="#000" stroke="#000" stroke-width="0.15" textLength="33.4" lengthAdjust="spacingAndGlyphs">1.11420</text>
<rect x="1641" y="324" width="2" height="1" fill="#000"/>
<text x="1645.4" y="328" font-size="10.2" fill="#000" stroke="#000" stroke-width="0.15" textLength="33.4" lengthAdjust="spacingAndGlyphs">1.11000</text>
<rect x="1641" y="357" width="2" height="1" fill="#000"/>
<text x="1645.4" y="361" font-size="10.2" fill="#000" stroke="#000" stroke-width="0.15" textLength="33.4" lengthAdjust="spacingAndGlyphs">1.10580</text>
<rect x="1641" y="390" width="2" height="1" fill="#000"/>
<text x="1645.4" y="394" font-size="10.2" fill="#000" stroke="#000" stroke-width="0.15" textLength="33.4" lengthAdjust="spacingAndGlyphs">1.10160</text>
<rect x="1641" y="423" width="2" height="1" fill="#000"/>
<text x="1645.4" y="427" font-size="10.2" fill="#000" stroke="#000" stroke-width="0.15" textLength="33.4" lengthAdjust="spacingAndGlyphs">1.09740</text>
<rect x="1641" y="456" width="2" height="1" fill="#000"/>
<text x="1645.4" y="460" font-size="10.2" fill="#000" stroke="#000" stroke-width="0.15" textLength="33.4" lengthAdjust="spacingAndGlyphs">1.09310</text>
<rect x="1641" y="489" width="2" height="1" fill="#000"/>
<text x="1645.4" y="493" font-size="10.2" fill="#000" stroke="#000" stroke-width="0.15" textLength="33.4" lengthAdjust="spacingAndGlyphs">1.08890</text>
<rect x="1641" y="522" width="2" height="1" fill="#000"/>
<text x="1645.4" y="526" font-size="10.2" fill="#000" stroke="#000" stroke-width="0.15" textLength="33.4" lengthAdjust="spacingAndGlyphs">1.08470</text>
<rect x="1641" y="555" width="2" height="1" fill="#000"/>
<text x="1645.4" y="559" font-size="10.2" fill="#000" stroke="#000" stroke-width="0.15" textLength="33.4" lengthAdjust="spacingAndGlyphs">1.08050</text>
<rect x="1641" y="588" width="2" height="1" fill="#000"/>
<text x="1645.4" y="592" font-size="10.2" fill="#000" stroke="#000" stroke-width="0.15" textLength="33.4" lengthAdjust="spacingAndGlyphs">1.07630</text>
<rect x="1642" y="159" width="41" height="11" fill="#ff0000"/>
<text x="1645.4" y="168" font-size="10.2" fill="#fff" stroke="#fff" stroke-width="0.15" textLength="33.4" lengthAdjust="spacingAndGlyphs">1.13034</text>
<rect x="1642" y="239" width="41" height="11" fill="#ff0000"/>
<text x="1645.4" y="248" font-size="10.2" fill="#fff" stroke="#fff" stroke-width="0.15" textLength="33.4" lengthAdjust="spacingAndGlyphs">1.12004</text>
<rect x="1642" y="317" width="41" height="11" fill="#ff0000"/>
<text x="1645.4" y="326" font-size="10.2" fill="#fff" stroke="#fff" stroke-width="0.15" textLength="33.4" lengthAdjust="spacingAndGlyphs">1.11009</text>
<rect x="1642" y="352" width="41" height="11" fill="#000000"/>
<text x="1645.4" y="361" font-size="10.2" fill="#fff" stroke="#fff" stroke-width="0.15" textLength="33.4" lengthAdjust="spacingAndGlyphs">1.10578</text>
<rect x="1642" y="396" width="41" height="11" fill="#00ff00"/>
<text x="1645.4" y="405" font-size="10.2" fill="#fff" stroke="#fff" stroke-width="0.15" textLength="33.4" lengthAdjust="spacingAndGlyphs">1.10008</text>
<rect x="1642" y="490" width="41" height="11" fill="#0000ff"/>
<text x="1645.4" y="499" font-size="10.2" fill="#fff" stroke="#fff" stroke-width="0.15" textLength="33.4" lengthAdjust="spacingAndGlyphs">1.08800</text>
<rect x="1642" y="553" width="41" height="11" fill="#0000c8"/>
<text x="1645.4" y="562" font-size="10.2" fill="#fff" stroke="#fff" stroke-width="0.15" textLength="33.4" lengthAdjust="spacingAndGlyphs">1.08008</text>
<path d="M7.5 31 L14.5 31 L11 35 Z" fill="#000"/>
<text x="19.3" y="36" font-size="10.2" fill="#000" stroke="#000" stroke-width="0.15" textLength="63.4" lengthAdjust="spacingAndGlyphs">EURUSD,Daily</text>
<text x="89.2" y="36" font-size="10.2" fill="#000" stroke="#000" stroke-width="0.15" textLength="140.5" lengthAdjust="spacingAndGlyphs">1.10519 1.10731 1.10355 1.10578</text>
<svg x="4" y="594" width="1636" height="103" viewBox="4 594 1636 103" overflow="hidden">
<line x1="5" y1="625.5" x2="1640" y2="625.5" stroke="#c0c0c0" stroke-width="1" stroke-dasharray="3,3" shape-rendering="crispEdges"/>
<line x1="5" y1="666.5" x2="1640" y2="666.5" stroke="#c0c0c0" stroke-width="1" stroke-dasharray="3,3" shape-rendering="crispEdges"/>
<polyline points="4.5,656.4 8.5,654.2 12.5,648.8 16.5,646.0 20.5,646.3 24.5,647.8 28.5,648.3 32.5,646.2 36.5,643.1 40.5,638.8 44.5,637.7 48.5,638.1 52.5,645.8 56.5,652.7 60.5,655.7 64.5,652.6 68.5,665.1 72.5,663.8 76.5,662.3 80.5,664.6 84.5,652.8 88.5,646.8 92.5,647.3 96.5,643.9 100.5,645.0 104.5,641.9 108.5,640.3 112.5,639.2 116.5,637.5 120.5,652.9 124.5,650.5 128.5,645.5 132.5,652.2 136.5,655.9 140.5,657.9 144.5,659.0 148.5,660.7 152.5,661.3 156.5,664.3 160.5,651.9 164.5,656.0 168.5,655.1 172.5,654.7 176.5,646.5 180.5,643.9 184.5,645.3 188.5,647.0 192.5,639.3 196.5,641.3 200.5,639.9 204.5,642.3 208.5,641.5 212.5,652.0 216.5,653.8 220.5,650.6 224.5,647.8 228.5,655.4 232.5,658.2 236.5,664.3 240.5,661.1 244.5,661.1 248.5,658.4 252.5,650.6 256.5,643.4 260.5,652.3 264.5,651.7 268.5,650.7 272.5,650.0 276.5,653.3 280.5,647.8 284.5,643.9 288.5,641.8 292.5,644.0 296.5,643.5 300.5,648.2 304.5,648.8 308.5,654.0 312.5,656.0 316.5,656.7 320.5,653.8 324.5,656.1 328.5,656.3 332.5,652.3 336.5,646.0 340.5,642.9 344.5,646.2 348.5,650.7 352.5,658.2 356.5,657.0 360.5,654.3 364.5,648.3 368.5,641.9 372.5,636.2 376.5,635.0 380.5,627.9 384.5,624.5 388.5,622.9 392.5,630.2 396.5,629.6 400.5,630.9 404.5,639.2 408.5,649.9 412.5,650.7 416.5,646.1 420.5,652.1 424.5,648.8 428.5,638.6 432.5,633.5 436.5,629.4 440.5,627.5 444.5,628.8 448.5,628.4 452.5,632.0 456.5,631.5 460.5,631.1 464.5,644.6 468.5,645.6 472.5,649.4 476.5,648.1 480.5,657.1 484.5,655.8 488.5,657.6 492.5,657.1 496.5,647.9 500.5,647.8 504.5,649.1 508.5,645.6 512.5,647.6 516.5,655.4 520.5,651.3 524.5,652.1 528.5,653.1 532.5,653.5 536.5,654.3 540.5,662.9 544.5,664.6 548.5,661.0 552.5,665.2 556.5,664.0 560.5,659.6 564.5,658.3 568.5,661.1 572.5,669.0 576.5,657.8 580.5,658.0 584.5,643.6 588.5,643.9 592.5,638.5 596.5,643.1 600.5,641.1 604.5,643.5 608.5,642.7 612.5,647.5 616.5,652.8 620.5,657.7 624.5,659.4 628.5,657.8 632.5,657.9 636.5,658.6 640.5,657.4 644.5,658.4 648.5,646.4 652.5,646.7 656.5,652.4 660.5,655.1 664.5,656.6 668.5,660.0 672.5,667.5 676.5,668.7 680.5,669.7 684.5,669.7 688.5,656.3 692.5,653.8 696.5,652.8 700.5,654.8 704.5,649.1 708.5,651.5 712.5,657.7 716.5,644.7 720.5,644.9 724.5,646.1 728.5,654.6 732.5,646.1 736.5,646.8 740.5,648.5 744.5,654.0 748.5,651.7 752.5,655.0 756.5,653.4 760.5,659.4 764.5,660.5 768.5,659.7 772.5,659.9 776.5,664.1 780.5,658.0 784.5,654.4 788.5,647.6 792.5,650.0 796.5,648.2 800.5,648.2 804.5,653.7 808.5,648.2 812.5,641.9 816.5,639.1 820.5,638.5 824.5,641.4 828.5,640.0 832.5,634.1 836.5,628.0 840.5,625.6 844.5,624.9 848.5,629.0 852.5,630.3 856.5,635.0 860.5,639.0 864.5,642.2 868.5,642.4 872.5,639.9 876.5,636.1 880.5,635.0 884.5,630.3 888.5,628.5 892.5,630.1 896.5,632.5 900.5,650.2 904.5,648.9 908.5,653.5 912.5,657.1 916.5,656.8 920.5,653.7 924.5,657.2 928.5,657.4 932.5,658.6 936.5,647.8 940.5,646.9 944.5,642.0 948.5,642.4 952.5,645.5 956.5,643.4 960.5,651.5 964.5,653.0 968.5,655.6 972.5,655.6 976.5,657.8 980.5,655.6 984.5,649.8 988.5,652.8 992.5,640.4 996.5,638.5 1000.5,637.3 1004.5,636.4 1008.5,648.3 1012.5,645.7 1016.5,642.5 1020.5,638.8 1024.5,640.2 1028.5,634.5 1032.5,631.6 1036.5,636.1 1040.5,633.2 1044.5,630.5 1048.5,637.8 1052.5,639.9 1056.5,646.0 1060.5,649.4 1064.5,645.4 1068.5,644.8 1072.5,646.1 1076.5,642.9 1080.5,632.3 1084.5,629.7 1088.5,627.6 1092.5,625.0 1096.5,627.0 1100.5,631.1 1104.5,639.4 1108.5,639.0 1112.5,635.3 1116.5,644.9 1120.5,648.8 1124.5,651.2 1128.5,649.6 1132.5,647.7 1136.5,645.3 1140.5,647.7 1144.5,641.7 1148.5,644.2 1152.5,652.9 1156.5,652.9 1160.5,654.6 1164.5,650.6 1168.5,654.9 1172.5,659.4 1176.5,662.4 1180.5,660.7 1184.5,663.2 1188.5,664.7 1192.5,664.9 1196.5,654.8 1200.5,645.2 1204.5,643.9 1208.5,650.3 1212.5,653.0 1216.5,658.2 1220.5,661.4 1224.5,663.1 1228.5,665.0 1232.5,667.4 1236.5,668.3 1240.5,670.5 1244.5,674.5 1248.5,674.7 1252.5,675.1 1256.5,676.0 1260.5,676.6 1264.5,679.0 1268.5,675.2 1272.5,661.0 1276.5,659.8 1280.5,660.2 1284.5,657.8 1288.5,657.4 1292.5,635.2 1296.5,635.2 1300.5,629.8 1304.5,626.8" fill="none" stroke="#1e90ff" stroke-width="1" shape-rendering="crispEdges"/>
</svg>
<text x="8.1" y="606" font-size="10.2" fill="#000" stroke="#000" stroke-width="0.15" textLength="67.6" lengthAdjust="spacingAndGlyphs">RSI(14) 68.6991</text>
<text x="1643.3" y="604" font-size="10.2" fill="#000" stroke="#000" stroke-width="0.15" textLength="15.5" lengthAdjust="spacingAndGlyphs">100</text>
<text x="1643.3" y="629" font-size="10.2" fill="#000" stroke="#000" stroke-width="0.15" textLength="10.3" lengthAdjust="spacingAndGlyphs">70</text>
<text x="1643.3" y="670" font-size="10.2" fill="#000" stroke="#000" stroke-width="0.15" textLength="10.3" lengthAdjust="spacingAndGlyphs">30</text>
<text x="1643.3" y="694" font-size="10.2" fill="#000" stroke="#000" stroke-width="0.15" textLength="5.2" lengthAdjust="spacingAndGlyphs">0</text>
<rect x="1641" y="595" width="2" height="1" fill="#000"/>
<rect x="1641" y="696" width="2" height="1" fill="#000"/>
<svg x="4" y="700" width="1636" height="102" viewBox="4 700 1636 102" overflow="hidden">
<rect x="4" y="739" width="1" height="30" fill="#c0c0c0"/>
<rect x="8" y="739" width="1" height="29" fill="#c0c0c0"/>
<rect x="12" y="739" width="1" height="26" fill="#c0c0c0"/>
<rect x="16" y="739" width="1" height="22" fill="#c0c0c0"/>
<rect x="20" y="739" width="1" height="19" fill="#c0c0c0"/>
<rect x="24" y="739" width="1" height="17" fill="#c0c0c0"/>
<rect x="28" y="739" width="1" height="15" fill="#c0c0c0"/>
<rect x="32" y="739" width="1" height="13" fill="#c0c0c0"/>
<rect x="36" y="739" width="1" height="11" fill="#c0c0c0"/>
<rect x="40" y="739" width="1" height="7" fill="#c0c0c0"/>
<rect x="44" y="739" width="1" height="4" fill="#c0c0c0"/>
<rect x="48" y="739" width="1" height="2" fill="#c0c0c0"/>
<rect x="52" y="739" width="1" height="2" fill="#c0c0c0"/>
<rect x="56" y="739" width="1" height="4" fill="#c0c0c0"/>
<rect x="60" y="739" width="1" height="6" fill="#c0c0c0"/>
<rect x="64" y="739" width="1" height="8" fill="#c0c0c0"/>
<rect x="68" y="739" width="1" height="14" fill="#c0c0c0"/>
<rect x="72" y="739" width="1" height="19" fill="#c0c0c0"/>
<rect x="76" y="739" width="1" height="22" fill="#c0c0c0"/>
<rect x="80" y="739" width="1" height="25" fill="#c0c0c0"/>
<rect x="84" y="739" width="1" height="24" fill="#c0c0c0"/>
<rect x="88" y="739" width="1" height="21" fill="#c0c0c0"/>
<rect x="92" y="739" width="1" height="19" fill="#c0c0c0"/>
<rect x="96" y="739" width="1" height="15" fill="#c0c0c0"/>
<rect x="100" y="739" width="1" height="13" fill="#c0c0c0"/>
<rect x="104" y="739" width="1" height="10" fill="#c0c0c0"/>
<rect x="108" y="739" width="1" height="6" fill="#c0c0c0"/>
<rect x="112" y="739" width="1" height="4" fill="#c0c0c0"/>
<rect x="116" y="739" width="1" height="1" fill="#c0c0c0"/>
<rect x="120" y="739" width="1" height="3" fill="#c0c0c0"/>
<rect x="124" y="739" width="1" height="5" fill="#c0c0c0"/>
<rect x="128" y="739" width="1" height="4" fill="#c0c0c0"/>
<rect x="132" y="739" width="1" height="6" fill="#c0c0c0"/>
<rect x="136" y="739" width="1" height="10" fill="#c0c0c0"/>
<rect x="140" y="739" width="1" height="13" fill="#c0c0c0"/>
<rect x="144" y="739" width="1" height="17" fill="#c0c0c0"/>
<rect x="148" y="739" width="1" height="20" fill="#c0c0c0"/>
<rect x="152" y="739" width="1" height="23" fill="#c0c0c0"/>
<rect x="156" y="739" width="1" height="26" fill="#c0c0c0"/>
<rect x="160" y="739" width="1" height="25" fill="#c0c0c0"/>
<rect x="164" y="739" width="1" height="25" fill="#c0c0c0"/>
<rect x="168" y="739" width="1" height="25" fill="#c0c0c0"/>
<rect x="172" y="739" width="1" height="25" fill="#c0c0c0"/>
<rect x="176" y="739" width="1" height="21" fill="#c0c0c0"/>
<rect x="180" y="739" width="1" height="17" fill="#c0c0c0"/>
<rect x="184" y="739" width="1" height="15" fill="#c0c0c0"/>
<rect x="188" y="739" width="1" height="13" fill="#c0c0c0"/>
<rect x="192" y="739" width="1" height="9" fill="#c0c0c0"/>
<rect x="196" y="739" width="1" height="6" fill="#c0c0c0"/>
<rect x="200" y="739" width="1" height="3" fill="#c0c0c0"/>
<rect x="204" y="739" width="1" height="1" fill="#c0c0c0"/>
<rect x="208" y="738" width="1" height="2" fill="#c0c0c0"/>
<rect x="212" y="739" width="1" height="3" fill="#c0c0c0"/>
<rect x="216" y="739" width="1" height="5" fill="#c0c0c0"/>
<rect x="220" y="739" width="1" height="6" fill="#c0c0c0"/>
<rect x="224" y="739" width="1" height="6" fill="#c0c0c0"/>
<rect x="228" y="739" width="1" height="9" fill="#c0c0c0"/>
<rect x="232" y="739" width="1" height="13" fill="#c0c0c0"/>
<rect x="236" y="739" width="1" height="18" fill="#c0c0c0"/>
<rect x="240" y="739" width="1" height="22" fill="#c0c0c0"/>
<rect x="244" y="739" width="1" height="24" fill="#c0c0c0"/>
<rect x="248" y="739" width="1" height="25" fill="#c0c0c0"/>
<rect x="252" y="739" width="1" height="24" fill="#c0c0c0"/>
<rect x="256" y="739" width="1" height="19" fill="#c0c0c0"/>
<rect x="260" y="739" width="1" height="19" fill="#c0c0c0"/>
<rect x="264" y="739" width="1" height="19" fill="#c0c0c0"/>
<rect x="268" y="739" width="1" height="18" fill="#c0c0c0"/>
<rect x="272" y="739" width="1" height="17" fill="#c0c0c0"/>
<rect x="276" y="739" width="1" height="17" fill="#c0c0c0"/>
<rect x="280" y="739" width="1" height="16" fill="#c0c0c0"/>
<rect x="284" y="739" width="1" height="13" fill="#c0c0c0"/>
<rect x="288" y="739" width="1" height="9" fill="#c0c0c0"/>
<rect x="292" y="739" width="1" height="7" fill="#c0c0c0"/>
<rect x="296" y="739" width="1" height="6" fill="#c0c0c0"/>
<rect x="300" y="739" width="1" height="6" fill="#c0c0c0"/>
<rect x="304" y="739" width="1" height="6" fill="#c0c0c0"/>
<rect x="308" y="739" width="1" height="8" fill="#c0c0c0"/>
<rect x="312" y="739" width="1" height="10" fill="#c0c0c0"/>
<rect x="316" y="739" width="1" height="12" fill="#c0c0c0"/>
<rect x="320" y="739" width="1" height="13" fill="#c0c0c0"/>
<rect x="324" y="739" width="1" height="14" fill="#c0c0c0"/>
<rect x="328" y="739" width="1" height="15" fill="#c0c0c0"/>
<rect x="332" y="739" width="1" height="15" fill="#c0c0c0"/>
<rect x="336" y="739" width="1" height="13" fill="#c0c0c0"/>
<rect x="340" y="739" width="1" height="10" fill="#c0c0c0"/>
<rect x="344" y="739" width="1" height="9" fill="#c0c0c0"/>
<rect x="348" y="739" width="1" height="9" fill="#c0c0c0"/>
<rect x="352" y="739" width="1" height="12" fill="#c0c0c0"/>
<rect x="356" y="739" width="1" height="14" fill="#c0c0c0"/>
<rect x="360" y="739" width="1" height="14" fill="#c0c0c0"/>
<rect x="364" y="739" width="1" height="13" fill="#c0c0c0"/>
<rect x="368" y="739" width="1" height="10" fill="#c0c0c0"/>
<rect x="372" y="739" width="1" height="5" fill="#c0c0c0"/>
<rect x="376" y="739" width="1" height="1" fill="#c0c0c0"/>
<rect x="380" y="733" width="1" height="7" fill="#c0c0c0"/>
<rect x="384" y="726" width="1" height="14" fill="#c0c0c0"/>
<rect x="388" y="719" width="1" height="21" fill="#c0c0c0"/>
<rect x="392" y="717" width="1" height="23" fill="#c0c0c0"/>
<rect x="396" y="714" width="1" height="26" fill="#c0c0c0"/>
<rect x="400" y="713" width="1" height="27" fill="#c0c0c0"/>
<rect x="404" y="715" width="1" height="25" fill="#c0c0c0"/>
<rect x="408" y="720" width="1" height="20" fill="#c0c0c0"/>
<rect x="412" y="725" width="1" height="15" fill="#c0c0c0"/>
<rect x="416" y="728" width="1" height="12" fill="#c0c0c0"/>
<rect x="420" y="732" width="1" height="8" fill="#c0c0c0"/>
<rect x="424" y="735" width="1" height="5" fill="#c0c0c0"/>
<rect x="428" y="732" width="1" height="8" fill="#c0c0c0"/>
<rect x="432" y="727" width="1" height="13" fill="#c0c0c0"/>
<rect x="436" y="721" width="1" height="19" fill="#c0c0c0"/>
<rect x="440" y="715" width="1" height="25" fill="#c0c0c0"/>
<rect x="444" y="710" width="1" height="30" fill="#c0c0c0"/>
<rect x="448" y="707" width="1" height="33" fill="#c0c0c0"/>
<rect x="452" y="706" width="1" height="34" fill="#c0c0c0"/>
<rect x="456" y="706" width="1" height="34" fill="#c0c0c0"/>
<rect x="460" y="705" width="1" height="35" fill="#c0c0c0"/>
<rect x="464" y="710" width="1" height="30" fill="#c0c0c0"/>
<rect x="468" y="715" width="1" height="25" fill="#c0c0c0"/>
<rect x="472" y="720" width="1" height="20" fill="#c0c0c0"/>
<rect x="476" y="724" width="1" height="16" fill="#c0c0c0"/>
<rect x="480" y="732" width="1" height="8" fill="#c0c0c0"/>
<rect x="484" y="737" width="1" height="3" fill="#c0c0c0"/>
<rect x="488" y="739" width="1" height="5" fill="#c0c0c0"/>
<rect x="492" y="739" width="1" height="9" fill="#c0c0c0"/>
<rect x="496" y="739" width="1" height="9" fill="#c0c0c0"/>
<rect x="500" y="739" width="1" height="8" fill="#c0c0c0"/>
<rect x="504" y="739" width="1" height="9" fill="#c0c0c0"/>
<rect x="508" y="739" width="1" height="7" fill="#c0c0c0"/>
<rect x="512" y="739" width="1" height="7" fill="#c0c0c0"/>
<rect x="516" y="739" width="1" height="10" fill="#c0c0c0"/>
<rect x="520" y="739" width="1" height="11" fill="#c0c0c0"/>
<rect x="524" y="739" width="1" height="12" fill="#c0c0c0"/>
<rect x="528" y="739" width="1" height="13" fill="#c0c0c0"/>
<rect x="532" y="739" width="1" height="14" fill="#c0c0c0"/>
<rect x="536" y="739" width="1" height="14" fill="#c0c0c0"/>
<rect x="540" y="739" width="1" height="19" fill="#c0c0c0"/>
<rect x="544" y="739" width="1" height="23" fill="#c0c0c0"/>
<rect x="548" y="739" width="1" height="25" fill="#c0c0c0"/>
<rect x="552" y="739" width="1" height="28" fill="#c0c0c0"/>
<rect x="556" y="739" width="1" height="31" fill="#c0c0c0"/>
<rect x="560" y="739" width="1" height="31" fill="#c0c0c0"/>
<rect x="564" y="739" width="1" height="30" fill="#c0c0c0"/>
<rect x="568" y="739" width="1" height="31" fill="#c0c0c0"/>
<rect x="572" y="739" width="1" height="35" fill="#c0c0c0"/>
<rect x="576" y="739" width="1" height="35" fill="#c0c0c0"/>
<rect x="580" y="739" width="1" height="35" fill="#c0c0c0"/>
<rect x="584" y="739" width="1" height="28" fill="#c0c0c0"/>
<rect x="588" y="739" width="1" height="23" fill="#c0c0c0"/>
<rect x="592" y="739" width="1" height="16" fill="#c0c0c0"/>
<rect x="596" y="739" width="1" height="13" fill="#c0c0c0"/>
<rect x="600" y="739" width="1" height="9" fill="#c0c0c0"/>
<rect x="604" y="739" width="1" height="7" fill="#c0c0c0"/>
<rect x="608" y="739" width="1" height="4" fill="#c0c0c0"/>
<rect x="612" y="739" width="1" height="5" fill="#c0c0c0"/>
<rect x="616" y="739" width="1" height="7" fill="#c0c0c0"/>
<rect x="620" y="739" width="1" height="12" fill="#c0c0c0"/>
<rect x="624" y="739" width="1" height="16" fill="#c0c0c0"/>
<rect x="628" y="739" width="1" height="19" fill="#c0c0c0"/>
<rect x="632" y="739" width="1" height="21" fill="#c0c0c0"/>
<rect x="636" y="739" width="1" height="23" fill="#c0c0c0"/>
<rect x="640" y="739" width="1" height="23" fill="#c0c0c0"/>
<rect x="644" y="739" width="1" height="24" fill="#c0c0c0"/>
<rect x="648" y="739" width="1" height="21" fill="#c0c0c0"/>
<rect x="652" y="739" width="1" height="18" fill="#c0c0c0"/>
<rect x="656" y="739" width="1" height="18" fill="#c0c0c0"/>
<rect x="660" y="739" width="1" height="19" fill="#c0c0c0"/>
<rect x="664" y="739" width="1" height="20" fill="#c0c0c0"/>
<rect x="668" y="739" width="1" height="22" fill="#c0c0c0"/>
<rect x="672" y="739" width="1" height="28" fill="#c0c0c0"/>
<rect x="676" y="739" width="1" height="33" fill="#c0c0c0"/>
<rect x="680" y="739" width="1" height="38" fill="#c0c0c0"/>
<rect x="684" y="739" width="1" height="41" fill="#c0c0c0"/>
<rect x="688" y="739" width="1" height="39" fill="#c0c0c0"/>
<rect x="692" y="739" width="1" height="36" fill="#c0c0c0"/>
<rect x="696" y="739" width="1" height="33" fill="#c0c0c0"/>
<rect x="700" y="739" width="1" height="32" fill="#c0c0c0"/>
<rect x="704" y="739" width="1" height="28" fill="#c0c0c0"/>
<rect x="708" y="739" width="1" height="26" fill="#c0c0c0"/>
<rect x="712" y="739" width="1" height="27" fill="#c0c0c0"/>
<rect x="716" y="739" width="1" height="22" fill="#c0c0c0"/>
<rect x="720" y="739" width="1" height="19" fill="#c0c0c0"/>
<rect x="724" y="739" width="1" height="16" fill="#c0c0c0"/>
<rect x="728" y="739" width="1" height="18" fill="#c0c0c0"/>
<rect x="732" y="739" width="1" height="15" fill="#c0c0c0"/>
<rect x="736" y="739" width="1" height="13" fill="#c0c0c0"/>
<rect x="740" y="739" width="1" height="13" fill="#c0c0c0"/>
<rect x="744" y="739" width="1" height="15" fill="#c0c0c0"/>
<rect x="748" y="739" width="1" height="15" fill="#c0c0c0"/>
<rect x="752" y="739" width="1" height="17" fill="#c0c0c0"/>
<rect x="756" y="739" width="1" height="18" fill="#c0c0c0"/>
<rect x="760" y="739" width="1" height="22" fill="#c0c0c0"/>
<rect x="764" y="739" width="1" height="25" fill="#c0c0c0"/>
<rect x="768" y="739" width="1" height="27" fill="#c0c0c0"/>
<rect x="772" y="739" width="1" height="29" fill="#c0c0c0"/>
<rect x="776" y="739" width="1" height="32" fill="#c0c0c0"/>
<rect x="780" y="739" width="1" height="32" fill="#c0c0c0"/>
<rect x="784" y="739" width="1" height="31" fill="#c0c0c0"/>
<rect x="788" y="739" width="1" height="27" fill="#c0c0c0"/>
<rect x="792" y="739" width="1" height="25" fill="#c0c0c0"/>
<rect x="796" y="739" width="1" height="22" fill="#c0c0c0"/>
<rect x="800" y="739" width="1" height="20" fill="#c0c0c0"/>
<rect x="804" y="739" width="1" height="20" fill="#c0c0c0"/>
<rect x="808" y="739" width="1" height="18" fill="#c0c0c0"/>
<rect x="812" y="739" width="1" height="14" fill="#c0c0c0"/>
<rect x="816" y="739" width="1" height="9" fill="#c0c0c0"/>
<rect x="820" y="739" width="1" height="5" fill="#c0c0c0"/>
<rect x="824" y="739" width="1" height="2" fill="#c0c0c0"/>
<rect x="828" y="738" width="1" height="2" fill="#c0c0c0"/>
<rect x="832" y="734" width="1" height="6" fill="#c0c0c0"/>
<rect x="836" y="727" width="1" height="13" fill="#c0c0c0"/>
<rect x="840" y="720" width="1" height="20" fill="#c0c0c0"/>
<rect x="844" y="714" width="1" height="26" fill="#c0c0c0"/>
<rect x="848" y="711" width="1" height="29" fill="#c0c0c0"/>
<rect x="852" y="710" width="1" height="30" fill="#c0c0c0"/>
<rect x="856" y="710" width="1" height="30" fill="#c0c0c0"/>
<rect x="860" y="712" width="1" height="28" fill="#c0c0c0"/>
<rect x="864" y="715" width="1" height="25" fill="#c0c0c0"/>
<rect x="868" y="718" width="1" height="22" fill="#c0c0c0"/>
<rect x="872" y="719" width="1" height="21" fill="#c0c0c0"/>
<rect x="876" y="719" width="1" height="21" fill="#c0c0c0"/>
<rect x="880" y="719" width="1" height="21" fill="#c0c0c0"/>
<rect x="884" y="716" width="1" height="24" fill="#c0c0c0"/>
<rect x="888" y="714" width="1" height="26" fill="#c0c0c0"/>
<rect x="892" y="713" width="1" height="27" fill="#c0c0c0"/>
<rect x="896" y="713" width="1" height="27" fill="#c0c0c0"/>
<rect x="900" y="719" width="1" height="21" fill="#c0c0c0"/>
<rect x="904" y="723" width="1" height="17" fill="#c0c0c0"/>
<rect x="908" y="729" width="1" height="11" fill="#c0c0c0"/>
<rect x="912" y="735" width="1" height="5" fill="#c0c0c0"/>
<rect x="916" y="739" width="1" height="2" fill="#c0c0c0"/>
<rect x="920" y="739" width="1" height="5" fill="#c0c0c0"/>
<rect x="924" y="739" width="1" height="8" fill="#c0c0c0"/>
<rect x="928" y="739" width="1" height="11" fill="#c0c0c0"/>
<rect x="932" y="739" width="1" height="14" fill="#c0c0c0"/>
<rect x="936" y="739" width="1" height="13" fill="#c0c0c0"/>
<rect x="940" y="739" width="1" height="11" fill="#c0c0c0"/>
<rect x="944" y="739" width="1" height="8" fill="#c0c0c0"/>
<rect x="948" y="739" width="1" height="6" fill="#c0c0c0"/>
<rect x="952" y="739" width="1" height="5" fill="#c0c0c0"/>
<rect x="956" y="739" width="1" height="4" fill="#c0c0c0"/>
<rect x="960" y="739" width="1" height="6" fill="#c0c0c0"/>
<rect x="964" y="739" width="1" height="7" fill="#c0c0c0"/>
<rect x="968" y="739" width="1" height="10" fill="#c0c0c0"/>
<rect x="972" y="739" width="1" height="11" fill="#c0c0c0"/>
<rect x="976" y="739" width="1" height="13" fill="#c0c0c0"/>
<rect x="980" y="739" width="1" height="14" fill="#c0c0c0"/>
<rect x="984" y="739" width="1" height="13" fill="#c0c0c0"/>
<rect x="988" y="739" width="1" height="13" fill="#c0c0c0"/>
<rect x="992" y="739" width="1" height="10" fill="#c0c0c0"/>
<rect x="996" y="739" width="1" height="6" fill="#c0c0c0"/>
<rect x="1000" y="739" width="1" height="3" fill="#c0c0c0"/>
<rect x="1004" y="738" width="1" height="2" fill="#c0c0c0"/>
<rect x="1008" y="739" width="1" height="1" fill="#c0c0c0"/>
<rect x="1012" y="739" width="1" height="1" fill="#c0c0c0"/>
<rect x="1016" y="738" width="1" height="2" fill="#c0c0c0"/>
<rect x="1020" y="736" width="1" height="4" fill="#c0c0c0"/>
<rect x="1024" y="735" width="1" height="5" fill="#c0c0c0"/>
<rect x="1028" y="731" width="1" height="9" fill="#c0c0c0"/>
<rect x="1032" y="728" width="1" height="12" fill="#c0c0c0"/>
<rect x="1036" y="726" width="1" height="14" fill="#c0c0c0"/>
<rect x="1040" y="724" width="1" height="16" fill="#c0c0c0"/>
<rect x="1044" y="721" width="1" height="19" fill="#c0c0c0"/>
<rect x="1048" y="721" width="1" height="19" fill="#c0c0c0"/>
<rect x="1052" y="722" width="1" height="18" fill="#c0c0c0"/>
<rect x="1056" y="725" width="1" height="15" fill="#c0c0c0"/>
<rect x="1060" y="729" width="1" height="11" fill="#c0c0c0"/>
<rect x="1064" y="730" width="1" height="10" fill="#c0c0c0"/>
<rect x="1068" y="731" width="1" height="9" fill="#c0c0c0"/>
<rect x="1072" y="733" width="1" height="7" fill="#c0c0c0"/>
<rect x="1076" y="733" width="1" height="7" fill="#c0c0c0"/>
<rect x="1080" y="729" width="1" height="11" fill="#c0c0c0"/>
<rect x="1084" y="725" width="1" height="15" fill="#c0c0c0"/>
<rect x="1088" y="720" width="1" height="20" fill="#c0c0c0"/>
<rect x="1092" y="716" width="1" height="24" fill="#c0c0c0"/>
<rect x="1096" y="713" width="1" height="27" fill="#c0c0c0"/>
<rect x="1100" y="712" width="1" height="28" fill="#c0c0c0"/>
<rect x="1104" y="714" width="1" height="26" fill="#c0c0c0"/>
<rect x="1108" y="716" width="1" height="24" fill="#c0c0c0"/>
<rect x="1112" y="716" width="1" height="24" fill="#c0c0c0"/>
<rect x="1116" y="719" width="1" height="21" fill="#c0c0c0"/>
<rect x="1120" y="724" width="1" height="16" fill="#c0c0c0"/>
<rect x="1124" y="728" width="1" height="12" fill="#c0c0c0"/>
<rect x="1128" y="731" width="1" height="9" fill="#c0c0c0"/>
<rect x="1132" y="733" width="1" height="7" fill="#c0c0c0"/>
<rect x="1136" y="734" width="1" height="6" fill="#c0c0c0"/>
<rect x="1140" y="736" width="1" height="4" fill="#c0c0c0"/>
<rect x="1144" y="735" width="1" height="5" fill="#c0c0c0"/>
<rect x="1148" y="735" width="1" height="5" fill="#c0c0c0"/>
<rect x="1152" y="738" width="1" height="2" fill="#c0c0c0"/>
<rect x="1156" y="739" width="1" height="3" fill="#c0c0c0"/>
<rect x="1160" y="739" width="1" height="6" fill="#c0c0c0"/>
<rect x="1164" y="739" width="1" height="7" fill="#c0c0c0"/>
<rect x="1168" y="739" width="1" height="9" fill="#c0c0c0"/>
<rect x="1172" y="739" width="1" height="13" fill="#c0c0c0"/>
<rect x="1176" y="739" width="1" height="17" fill="#c0c0c0"/>
<rect x="1180" y="739" width="1" height="19" fill="#c0c0c0"/>
<rect x="1184" y="739" width="1" height="22" fill="#c0c0c0"/>
<rect x="1188" y="739" width="1" height="25" fill="#c0c0c0"/>
<rect x="1192" y="739" width="1" height="27" fill="#c0c0c0"/>
<rect x="1196" y="739" width="1" height="26" fill="#c0c0c0"/>
<rect x="1200" y="739" width="1" height="22" fill="#c0c0c0"/>
<rect x="1204" y="739" width="1" height="18" fill="#c0c0c0"/>
<rect x="1208" y="739" width="1" height="17" fill="#c0c0c0"/>
<rect x="1212" y="739" width="1" height="17" fill="#c0c0c0"/>
<rect x="1216" y="739" width="1" height="20" fill="#c0c0c0"/>
<rect x="1220" y="739" width="1" height="23" fill="#c0c0c0"/>
<rect x="1224" y="739" width="1" height="26" fill="#c0c0c0"/>
<rect x="1228" y="739" width="1" height="29" fill="#c0c0c0"/>
<rect x="1232" y="739" width="1" height="33" fill="#c0c0c0"/>
<rect x="1236" y="739" width="1" height="36" fill="#c0c0c0"/>
<rect x="1240" y="739" width="1" height="39" fill="#c0c0c0"/>
<rect x="1244" y="739" width="1" height="45" fill="#c0c0c0"/>
<rect x="1248" y="739" width="1" height="48" fill="#c0c0c0"/>
<rect x="1252" y="739" width="1" height="51" fill="#c0c0c0"/>
<rect x="1256" y="739" width="1" height="53" fill="#c0c0c0"/>
<rect x="1260" y="739" width="1" height="55" fill="#c0c0c0"/>
<rect x="1264" y="739" width="1" height="58" fill="#c0c0c0"/>
<rect x="1268" y="739" width="1" height="59" fill="#c0c0c0"/>
<rect x="1272" y="739" width="1" height="55" fill="#c0c0c0"/>
<rect x="1276" y="739" width="1" height="52" fill="#c0c0c0"/>
<rect x="1280" y="739" width="1" height="48" fill="#c0c0c0"/>
<rect x="1284" y="739" width="1" height="45" fill="#c0c0c0"/>
<rect x="1288" y="739" width="1" height="41" fill="#c0c0c0"/>
<rect x="1292" y="739" width="1" height="30" fill="#c0c0c0"/>
<rect x="1296" y="739" width="1" height="22" fill="#c0c0c0"/>
<rect x="1300" y="739" width="1" height="12" fill="#c0c0c0"/>
<rect x="1304" y="739" width="1" height="2" fill="#c0c0c0"/>
<polyline points="4.5,759.2 8.5,762.3 12.5,764.5 16.5,764.8 20.5,764.5 24.5,763.3 28.5,760.8 32.5,757.4 36.5,758.7 40.5,756.2 44.5,753.4 48.5,750.8 52.5,748.5 56.5,746.8 60.5,745.6 64.5,744.8 68.5,744.9 72.5,745.8 76.5,747.5 80.5,749.8 84.5,752.4 88.5,754.6 92.5,756.2 96.5,757.2 100.5,757.8 104.5,757.2 108.5,755.8 112.5,753.8 116.5,751.0 120.5,748.7 124.5,746.9 128.5,745.3 132.5,744.3 136.5,744.0 140.5,744.4 144.5,745.5 148.5,747.3 152.5,749.8 156.5,752.3 160.5,754.5 164.5,756.8 168.5,758.9 172.5,760.5 176.5,761.4 180.5,761.4 184.5,760.8 188.5,759.8 192.5,757.8 196.5,755.8 200.5,753.3 204.5,750.7 208.5,747.9 212.5,745.9 216.5,744.5 220.5,743.6 224.5,742.8 228.5,742.9 232.5,743.7 236.5,745.4 240.5,747.7 244.5,750.4 248.5,752.9 252.5,755.0 256.5,756.4 260.5,757.8 264.5,758.9 268.5,759.5 272.5,759.4 276.5,758.9 280.5,757.9 284.5,756.5 288.5,754.9 292.5,753.6 296.5,752.1 300.5,750.7 304.5,749.3 308.5,748.3 312.5,747.5 316.5,747.2 320.5,747.2 324.5,747.8 328.5,748.6 332.5,749.6 336.5,750.4 340.5,750.9 344.5,750.9 348.5,750.8 352.5,750.7 356.5,750.8 360.5,750.7 364.5,750.5 368.5,749.9 372.5,749.1 376.5,748.1 380.5,746.5 384.5,744.1 388.5,740.7 392.5,736.9 396.5,732.7 400.5,728.5 404.5,724.8 408.5,722.3 412.5,720.8 416.5,720.2 420.5,720.9 424.5,722.6 428.5,724.3 432.5,725.8 436.5,726.6 440.5,726.6 444.5,725.5 448.5,723.5 452.5,721.1 456.5,718.2 460.5,714.9 464.5,712.5 468.5,711.1 472.5,711.1 476.5,712.1 480.5,714.5 484.5,717.9 488.5,721.9 492.5,726.5 496.5,731.0 500.5,735.0 504.5,738.6 508.5,741.4 512.5,743.7 516.5,745.5 520.5,746.8 524.5,747.6 528.5,748.1 532.5,748.6 536.5,749.3 540.5,750.4 544.5,752.2 548.5,754.1 552.5,756.2 556.5,758.4 560.5,760.5 564.5,762.4 568.5,764.3 572.5,766.6 576.5,768.4 580.5,769.7 584.5,770.1 588.5,769.6 592.5,768.0 596.5,766.0 600.5,763.6 604.5,760.9 608.5,757.4 612.5,754.0 616.5,751.0 620.5,749.1 624.5,748.3 628.5,748.6 632.5,749.5 636.5,751.1 640.5,753.0 644.5,755.2 648.5,757.0 652.5,758.2 656.5,758.9 660.5,759.1 664.5,759.3 668.5,759.4 672.5,760.0 676.5,761.1 680.5,762.6 684.5,764.9 688.5,767.2 692.5,769.2 696.5,770.9 700.5,772.2 704.5,772.8 708.5,772.6 712.5,771.9 716.5,770.2 720.5,767.7 724.5,765.1 728.5,763.1 732.5,761.0 736.5,759.0 740.5,757.3 744.5,756.0 748.5,754.8 752.5,754.2 756.5,754.1 760.5,754.8 764.5,755.6 768.5,757.0 772.5,758.7 776.5,760.8 780.5,762.8 784.5,764.5 788.5,765.6 792.5,766.4 796.5,766.4 800.5,765.8 804.5,765.0 808.5,763.8 812.5,761.7 816.5,759.1 820.5,756.2 824.5,753.4 828.5,750.7 832.5,747.7 836.5,744.3 840.5,740.0 844.5,735.4 848.5,730.9 852.5,726.8 856.5,723.1 860.5,720.0 864.5,717.4 868.5,715.7 872.5,714.8 876.5,714.7 880.5,715.2 884.5,715.8 888.5,716.3 892.5,716.6 896.5,716.7 900.5,717.1 904.5,717.7 908.5,718.8 912.5,720.6 916.5,723.0 920.5,725.9 924.5,729.5 928.5,733.6 932.5,737.9 936.5,741.4 940.5,744.3 944.5,746.2 948.5,747.3 952.5,747.7 956.5,747.6 960.5,747.3 964.5,746.9 968.5,746.4 972.5,746.2 976.5,746.4 980.5,747.1 984.5,747.8 988.5,748.7 992.5,749.4 996.5,749.4 1000.5,748.9 1004.5,747.8 1008.5,746.6 1012.5,745.3 1016.5,743.7 1020.5,741.9 1024.5,740.0 1028.5,738.2 1032.5,736.4 1036.5,734.9 1040.5,733.4 1044.5,731.5 1048.5,729.5 1052.5,727.8 1056.5,726.6 1060.5,725.9 1064.5,725.8 1068.5,726.2 1072.5,726.9 1076.5,727.8 1080.5,728.7 1084.5,729.0 1088.5,728.8 1092.5,727.8 1096.5,726.0 1100.5,724.0 1104.5,722.1 1108.5,720.2 1112.5,718.3 1116.5,717.2 1120.5,717.1 1124.5,717.9 1128.5,719.7 1132.5,721.9 1136.5,724.4 1140.5,726.8 1144.5,728.9 1148.5,731.1 1152.5,733.2 1156.5,735.2 1160.5,736.9 1164.5,738.4 1168.5,739.9 1172.5,741.7 1176.5,743.9 1180.5,746.4 1184.5,749.2 1188.5,751.9 1192.5,754.7 1196.5,756.9 1200.5,758.7 1204.5,759.7 1208.5,760.2 1212.5,760.3 1216.5,760.3 1220.5,760.4 1224.5,760.4 1228.5,760.6 1232.5,761.3 1236.5,762.9 1240.5,765.2 1244.5,768.2 1248.5,771.7 1252.5,775.2 1256.5,778.6 1260.5,781.8 1264.5,785.0 1268.5,787.9 1272.5,790.0 1276.5,791.4 1280.5,791.8 1284.5,791.4 1288.5,790.3 1292.5,787.8 1296.5,784.0 1300.5,778.9 1304.5,772.6" fill="none" stroke="#ff0000" stroke-width="1" stroke-dasharray="3,3" shape-rendering="crispEdges"/>
</svg>
<text x="7.8" y="712" font-size="10.2" fill="#000" stroke="#000" stroke-width="0.15" textLength="154.2" lengthAdjust="spacingAndGlyphs">MACD(12,26,9) -0.000049 -0.004025</text>
<text x="1643.6" y="710" font-size="10.2" fill="#000" stroke="#000" stroke-width="0.15" textLength="38.8" lengthAdjust="spacingAndGlyphs">0.004738</text>
<text x="1643.6" y="743" font-size="10.2" fill="#000" stroke="#000" stroke-width="0.15" textLength="18.1" lengthAdjust="spacingAndGlyphs">0.00</text>
<text x="1643.6" y="799" font-size="10.2" fill="#000" stroke="#000" stroke-width="0.15" textLength="41.9" lengthAdjust="spacingAndGlyphs">-0.007584</text>
<rect x="1641" y="701" width="2" height="1" fill="#000"/>
<rect x="1641" y="739" width="2" height="1" fill="#000"/>
<rect x="1641" y="801" width="2" height="1" fill="#000"/>
<rect x="4" y="803" width="1" height="3" fill="#000"/>
<text x="3.7" y="815" font-size="10.2" fill="#000" stroke="#000" stroke-width="0.15" textLength="52.2" lengthAdjust="spacingAndGlyphs">16 Feb 2019</text>
<rect x="68" y="803" width="1" height="3" fill="#000"/>
<text x="67.7" y="815" font-size="10.2" fill="#000" stroke="#000" stroke-width="0.15" textLength="47.0" lengthAdjust="spacingAndGlyphs">7 Mar 2019</text>
<rect x="132" y="803" width="1" height="3" fill="#000"/>
<text x="131.7" y="815" font-size="10.2" fill="#000" stroke="#000" stroke-width="0.15" textLength="52.2" lengthAdjust="spacingAndGlyphs">26 Mar 2019</text>
<rect x="196" y="803" width="1" height="3" fill="#000"/>
<text x="195.7" y="815" font-size="10.2" fill="#000" stroke="#000" stroke-width="0.15" textLength="50.2" lengthAdjust="spacingAndGlyphs">13 Apr 2019</text>
<rect x="260" y="803" width="1" height="3" fill="#000"/>
<text x="259.7" y="815" font-size="10.2" fill="#000" stroke="#000" stroke-width="0.15" textLength="48.6" lengthAdjust="spacingAndGlyphs">2 May 2019</text>
<rect x="324" y="803" width="1" height="3" fill="#000"/>
<text x="323.7" y="815" font-size="10.2" fill="#000" stroke="#000" stroke-width="0.15" textLength="53.8" lengthAdjust="spacingAndGlyphs">21 May 2019</text>
<rect x="388" y="803" width="1" height="3" fill="#000"/>
<text x="387.7" y="815" font-size="10.2" fill="#000" stroke="#000" stroke-width="0.15" textLength="46.0" lengthAdjust="spacingAndGlyphs">8 Jun 2019</text>
<rect x="452" y="803" width="1" height="3" fill="#000"/>
<text x="451.7" y="815" font-size="10.2" fill="#000" stroke="#000" stroke-width="0.15" textLength="51.2" lengthAdjust="spacingAndGlyphs">27 Jun 2019</text>
<rect x="516" y="803" width="1" height="3" fill="#000"/>
<text x="515.7" y="815" font-size="10.2" fill="#000" stroke="#000" stroke-width="0.15" textLength="48.1" lengthAdjust="spacingAndGlyphs">16 Jul 2019</text>
<rect x="580" y="803" width="1" height="3" fill="#000"/>
<text x="579.7" y="815" font-size="10.2" fill="#000" stroke="#000" stroke-width="0.15" textLength="47.1" lengthAdjust="spacingAndGlyphs">3 Aug 2019</text>
<rect x="644" y="803" width="1" height="3" fill="#000"/>
<text x="643.7" y="815" font-size="10.2" fill="#000" stroke="#000" stroke-width="0.15" textLength="52.2" lengthAdjust="spacingAndGlyphs">22 Aug 2019</text>
<rect x="708" y="803" width="1" height="3" fill="#000"/>
<text x="707.7" y="815" font-size="10.2" fill="#000" stroke="#000" stroke-width="0.15" textLength="52.7" lengthAdjust="spacingAndGlyphs">10 Sep 2019</text>
<rect x="772" y="803" width="1" height="3" fill="#000"/>
<text x="771.7" y="815" font-size="10.2" fill="#000" stroke="#000" stroke-width="0.15" textLength="52.7" lengthAdjust="spacingAndGlyphs">28 Sep 2019</text>
<rect x="836" y="803" width="1" height="3" fill="#000"/>
<text x="835.7" y="815" font-size="10.2" fill="#000" stroke="#000" stroke-width="0.15" textLength="50.7" lengthAdjust="spacingAndGlyphs">17 Oct 2019</text>
<rect x="900" y="803" width="1" height="3" fill="#000"/>
<text x="899.7" y="815" font-size="10.2" fill="#000" stroke="#000" stroke-width="0.15" textLength="47.6" lengthAdjust="spacingAndGlyphs">5 Nov 2019</text>
<rect x="964" y="803" width="1" height="3" fill="#000"/>
<text x="963.7" y="815" font-size="10.2" fill="#000" stroke="#000" stroke-width="0.15" textLength="52.7" lengthAdjust="spacingAndGlyphs">23 Nov 2019</text>
<rect x="1028" y="803" width="1" height="3" fill="#000"/>
<text x="1027.7" y="815" font-size="10.2" fill="#000" stroke="#000" stroke-width="0.15" textLength="52.7" lengthAdjust="spacingAndGlyphs">12 Dec 2019</text>
<rect x="1092" y="803" width="1" height="3" fill="#000"/>
<text x="1091.7" y="815" font-size="10.2" fill="#000" stroke="#000" stroke-width="0.15" textLength="52.7" lengthAdjust="spacingAndGlyphs">31 Dec 2019</text>
<rect x="1156" y="803" width="1" height="3" fill="#000"/>
<text x="1155.7" y="815" font-size="10.2" fill="#000" stroke="#000" stroke-width="0.15" textLength="51.2" lengthAdjust="spacingAndGlyphs">18 Jan 2020</text>
<rect x="1220" y="803" width="1" height="3" fill="#000"/>
<text x="1219.7" y="815" font-size="10.2" fill="#000" stroke="#000" stroke-width="0.15" textLength="47.1" lengthAdjust="spacingAndGlyphs">6 Feb 2020</text>
<rect x="1284" y="803" width="1" height="3" fill="#000"/>
<text x="1283.7" y="815" font-size="10.2" fill="#000" stroke="#000" stroke-width="0.15" textLength="52.2" lengthAdjust="spacingAndGlyphs">25 Feb 2020</text>
<rect x="0" y="823" width="1683" height="1" fill="#e3e3e3"/>
<rect x="0" y="824" width="1683" height="1" fill="#ffffff"/>
<rect x="0" y="825" width="1683" height="1" fill="#000"/>
<rect x="0" y="826" width="1683" height="19" fill="#f0f0f0"/>
<rect x="109" y="826" width="1574" height="1" fill="#ffffff"/>
<rect x="109" y="826" width="1" height="19" fill="#ffffff"/>
<rect x="0" y="845" width="1683" height="1" fill="#ffffff"/>
<rect x="0" y="826" width="1" height="18" fill="#646464"/>
<rect x="2" y="826" width="2" height="17" fill="#f8f8f8"/>
<rect x="5" y="825" width="104" height="19" fill="#000"/>
<rect x="6" y="824" width="102" height="19" fill="#ffffff"/>
<text x="17.4" y="839.5" font-size="12" fill="#000" textLength="79.3" lengthAdjust="spacingAndGlyphs">EURUSD,Daily</text>
<text x="119.6" y="839.5" font-size="12" fill="#6d6d6d" textLength="78.4" lengthAdjust="spacingAndGlyphs">USDCHF,Daily</text>
<text x="220" y="839.5" font-size="12" fill="#6d6d6d" textLength="82.3" lengthAdjust="spacingAndGlyphs">AUDUSD,Daily</text>
<text x="324" y="839.5" font-size="12" fill="#6d6d6d" textLength="81.0" lengthAdjust="spacingAndGlyphs">USDCAD,Daily</text>
<text x="427.5" y="839.5" font-size="12" fill="#6d6d6d" textLength="83.2" lengthAdjust="spacingAndGlyphs">USDCNH,Daily</text>
<text x="533.7" y="839.5" font-size="12" fill="#6d6d6d" textLength="80.0" lengthAdjust="spacingAndGlyphs">EURUSD,Daily</text>
<text x="637.3" y="839.5" font-size="12" fill="#6d6d6d" textLength="79.7" lengthAdjust="spacingAndGlyphs">GBPUSD,Daily</text>
<text x="740" y="839.5" font-size="12" fill="#6d6d6d" textLength="68.7" lengthAdjust="spacingAndGlyphs">XAUUSD,H1</text>
<text x="832.4" y="839.5" font-size="12" fill="#6d6d6d" textLength="49.2" lengthAdjust="spacingAndGlyphs">HK50,H1</text>
<text x="904.2" y="839.5" font-size="12" fill="#6d6d6d" textLength="68.5" lengthAdjust="spacingAndGlyphs">UK100,Daily</text>
<rect x="209" y="829" width="1" height="12" fill="#6d6d6d"/>
<rect x="313" y="829" width="1" height="12" fill="#6d6d6d"/>
<rect x="417" y="829" width="1" height="12" fill="#6d6d6d"/>
<rect x="521" y="829" width="1" height="12" fill="#6d6d6d"/>
<rect x="625" y="829" width="1" height="12" fill="#6d6d6d"/>
<rect x="729" y="829" width="1" height="12" fill="#6d6d6d"/>
<rect x="821" y="829" width="1" height="12" fill="#6d6d6d"/>
<rect x="894" y="829" width="1" height="12" fill="#6d6d6d"/>
<rect x="985" y="829" width="1" height="12" fill="#6d6d6d"/>
<path d="M1659 830.5 L1659 837.5 L1655.5 834 Z M1674.5 830.5 L1674.5 837.5 L1678 834 Z" fill="#a0a0a0"/></svg></body></html>
